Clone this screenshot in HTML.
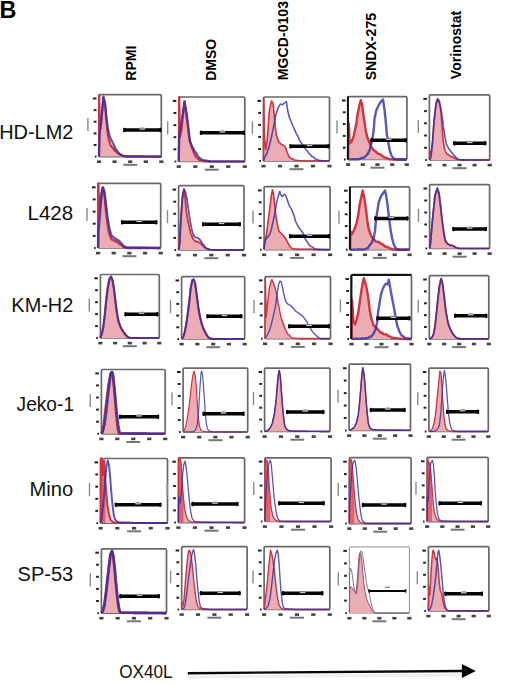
<!DOCTYPE html>
<html><head><meta charset="utf-8"><style>
html,body{margin:0;padding:0;background:#fff;}
body{width:520px;height:685px;overflow:hidden;font-family:"Liberation Sans",sans-serif;}
svg{display:block;}
</style></head><body>
<svg width="520" height="685" viewBox="0 0 520 685">
<g><rect x="99.0" y="94.7" width="62.3" height="61.9" rx="1.2" fill="#fff" stroke="#686868" stroke-width="1.7"/><path d="M99.0,156.6 99.2,95.4 99.8,130.4 101.1,123.7 102.3,110.5 103.5,97.4 105.1,104.8 107.1,127.7 108.5,138.5 110.5,145.2 112.2,147.3 113.8,149.2 115.2,151.0 116.5,151.9 117.9,153.3 119.2,154.0 120.6,154.7 121.9,155.3 123.3,155.7 124.6,156.2 126.0,156.6 127.2,156.6 128.4,156.6 129.6,156.6 130.8,156.6 132.1,156.6 133.3,156.6 134.5,156.6 135.7,156.6 136.9,156.6 138.2,156.6 139.4,156.6 140.6,156.6 141.8,156.6 143.1,156.6 144.3,156.6 145.5,156.6 146.7,156.6 147.9,156.6 149.2,156.6 150.4,156.6 151.6,156.6 152.8,156.6 154.0,156.6 155.3,156.6 156.5,156.6 157.7,156.6 158.9,156.6 160.1,156.6 161.4,156.6 161.4,156.6 99.0,156.6Z" fill="#ebadb3" stroke="none"/><path d="M99.0,156.6 99.2,95.4 99.8,130.4 101.1,123.7 102.3,110.5 103.5,97.4 105.1,104.8 107.1,127.7 108.5,138.5 110.5,145.2 112.2,147.3 113.8,149.2 115.2,151.0 116.5,151.9 117.9,153.3 119.2,154.0 120.6,154.7 121.9,155.3 123.3,155.7 124.6,156.2 126.0,156.6 127.2,156.6 128.4,156.6 129.6,156.6 130.8,156.6 132.1,156.6 133.3,156.6 134.5,156.6 135.7,156.6 136.9,156.6 138.2,156.6 139.4,156.6 140.6,156.6 141.8,156.6 143.1,156.6 144.3,156.6 145.5,156.6 146.7,156.6 147.9,156.6 149.2,156.6 150.4,156.6 151.6,156.6 152.8,156.6 154.0,156.6 155.3,156.6 156.5,156.6 157.7,156.6 158.9,156.6 160.1,156.6 161.4,156.6" fill="none" stroke="#d3323e" stroke-width="2.2" stroke-linejoin="round"/><path d="M99.0,156.6 99.7,134.4 101.0,121.5 102.2,109.3 103.5,96.7 105.1,103.5 106.4,116.9 107.8,127.7 109.1,134.4 111.2,139.8 113.2,143.8 115.2,147.9 116.5,150.0 117.9,151.9 119.2,153.6 120.6,154.6 121.9,155.2 123.3,155.7 124.6,156.2 125.8,156.2 127.1,156.3 128.3,156.3 129.5,156.3 130.7,156.3 132.0,156.3 133.2,156.3 134.4,156.3 135.6,156.4 136.9,156.4 138.1,156.4 139.3,156.4 140.5,156.4 141.8,156.4 143.0,156.4 144.2,156.4 145.4,156.5 146.7,156.5 147.9,156.5 149.1,156.5 150.3,156.5 151.6,156.5 152.8,156.5 154.0,156.6 155.2,156.6 156.5,156.6 157.7,156.6 158.9,156.6 160.1,156.6 161.4,156.6" fill="none" stroke="#2e30a8" stroke-opacity="0.8" stroke-width="2.2" stroke-linejoin="round"/><rect x="123.3" y="128.2" width="38.1" height="3.5" rx="0.6" fill="#050505"/><rect x="123.3" y="127.7" width="2.2" height="4.5" rx="1" fill="#050505"/><rect x="159.2" y="127.7" width="2.2" height="4.5" rx="1" fill="#050505"/><rect x="139.6" y="128.2" width="5.5" height="1.5" fill="#fff" fill-opacity="0.8"/><rect x="140.1" y="127.6" width="4.5" height="1.0" fill="#777"/><rect x="94.9" y="155.6" width="1.6" height="2" fill="#222"/><rect x="93.7" y="144.0" width="2.8" height="2" fill="#222"/><rect x="93.7" y="132.4" width="2.8" height="2" fill="#222"/><rect x="93.7" y="120.7" width="2.8" height="2" fill="#222"/><rect x="93.7" y="109.1" width="2.8" height="2" fill="#222"/><rect x="92.9" y="97.5" width="3.6" height="2" fill="#222"/><rect x="87.2" y="118.0" width="1.4" height="13" fill="#8a8a8a"/><rect x="96.9" y="160.4" width="4.2" height="2.6" fill="#444"/><rect x="112.5" y="160.4" width="4.2" height="2.6" fill="#444"/><rect x="128.1" y="160.4" width="4.2" height="2.6" fill="#444"/><rect x="143.7" y="160.4" width="4.2" height="2.6" fill="#444"/><rect x="159.3" y="160.4" width="4.2" height="2.6" fill="#444"/><rect x="123.2" y="163.8" width="14" height="2" fill="#777"/></g>
<g><rect x="178.8" y="97.0" width="66.0" height="64.5" rx="1.2" fill="#fff" stroke="#686868" stroke-width="1.7"/><path d="M178.8,161.5 179.2,97.2 179.9,137.2 181.5,129.5 183.0,115.2 184.5,101.8 186.8,118.7 189.2,137.2 191.5,146.4 193.8,152.5 196.1,157.2 197.6,158.3 199.2,159.9 200.7,160.3 202.2,160.7 203.8,161.2 205.3,161.3 206.8,161.4 208.4,161.5 209.6,161.5 210.8,161.5 212.0,161.5 213.2,161.5 214.5,161.5 215.7,161.5 216.9,161.5 218.1,161.5 219.3,161.5 220.5,161.5 221.8,161.5 223.0,161.5 224.2,161.5 225.4,161.5 226.6,161.5 227.8,161.5 229.0,161.5 230.3,161.5 231.5,161.5 232.7,161.5 233.9,161.5 235.1,161.5 236.3,161.5 237.6,161.5 238.8,161.5 240.0,161.5 241.2,161.5 242.4,161.5 243.6,161.5 244.8,161.5 244.8,161.5 178.8,161.5Z" fill="#ebadb3" stroke="none"/><path d="M178.8,161.5 179.2,97.2 179.9,137.2 181.5,129.5 183.0,115.2 184.5,101.8 186.8,118.7 189.2,137.2 191.5,146.4 193.8,152.5 196.1,157.2 197.6,158.3 199.2,159.9 200.7,160.3 202.2,160.7 203.8,161.2 205.3,161.3 206.8,161.4 208.4,161.5 209.6,161.5 210.8,161.5 212.0,161.5 213.2,161.5 214.5,161.5 215.7,161.5 216.9,161.5 218.1,161.5 219.3,161.5 220.5,161.5 221.8,161.5 223.0,161.5 224.2,161.5 225.4,161.5 226.6,161.5 227.8,161.5 229.0,161.5 230.3,161.5 231.5,161.5 232.7,161.5 233.9,161.5 235.1,161.5 236.3,161.5 237.6,161.5 238.8,161.5 240.0,161.5 241.2,161.5 242.4,161.5 243.6,161.5 244.8,161.5" fill="none" stroke="#d3323e" stroke-width="2.2" stroke-linejoin="round"/><path d="M178.8,161.5 179.2,137.2 180.5,127.7 181.8,119.4 183.2,110.2 184.5,101.0 186.8,114.1 188.4,127.9 189.9,141.8 192.2,146.4 194.5,151.0 196.1,152.8 197.6,155.6 199.2,157.6 200.7,158.7 202.2,159.8 203.8,160.1 205.3,160.5 206.5,160.7 207.8,160.9 209.0,161.1 210.2,161.3 211.5,161.5 212.7,161.5 213.9,161.5 215.2,161.5 216.4,161.5 217.6,161.5 218.9,161.5 220.1,161.5 221.4,161.5 222.6,161.5 223.8,161.5 225.1,161.5 226.3,161.5 227.5,161.5 228.8,161.5 230.0,161.5 231.2,161.5 232.5,161.5 233.7,161.5 235.0,161.5 236.2,161.5 237.4,161.5 238.7,161.5 239.9,161.5 241.1,161.5 242.4,161.5 243.6,161.5 244.8,161.5" fill="none" stroke="#2e30a8" stroke-opacity="0.8" stroke-width="2.2" stroke-linejoin="round"/><rect x="199.9" y="131.1" width="44.9" height="3.5" rx="0.6" fill="#050505"/><rect x="199.9" y="130.6" width="2.2" height="4.5" rx="1" fill="#050505"/><rect x="242.6" y="130.6" width="2.2" height="4.5" rx="1" fill="#050505"/><rect x="219.6" y="131.1" width="5.5" height="1.5" fill="#fff" fill-opacity="0.8"/><rect x="220.1" y="130.5" width="4.5" height="1.0" fill="#777"/><rect x="174.7" y="160.5" width="1.6" height="2" fill="#222"/><rect x="173.5" y="148.3" width="2.8" height="2" fill="#222"/><rect x="173.5" y="136.2" width="2.8" height="2" fill="#222"/><rect x="173.5" y="124.1" width="2.8" height="2" fill="#222"/><rect x="173.5" y="112.0" width="2.8" height="2" fill="#222"/><rect x="172.7" y="99.9" width="3.6" height="2" fill="#222"/><rect x="167.0" y="121.6" width="1.4" height="13" fill="#8a8a8a"/><rect x="176.7" y="165.3" width="4.2" height="2.6" fill="#444"/><rect x="193.2" y="165.3" width="4.2" height="2.6" fill="#444"/><rect x="209.7" y="165.3" width="4.2" height="2.6" fill="#444"/><rect x="226.2" y="165.3" width="4.2" height="2.6" fill="#444"/><rect x="242.7" y="165.3" width="4.2" height="2.6" fill="#444"/><rect x="204.8" y="168.7" width="14" height="2" fill="#777"/></g>
<g><rect x="263.5" y="97.0" width="66.0" height="64.0" rx="1.2" fill="#fff" stroke="#686868" stroke-width="1.7"/><path d="M263.5,161.0 263.8,98.7 264.5,137.2 265.7,149.5 267.2,140.2 269.5,109.5 271.5,101.0 273.1,103.3 274.2,114.1 275.2,126.4 276.5,135.6 278.8,141.8 281.1,144.1 282.6,145.0 284.2,145.6 285.7,147.9 287.2,152.5 288.8,156.4 291.1,158.7 292.4,158.6 293.6,159.7 294.9,160.2 296.2,160.3 297.6,160.5 298.9,160.6 300.2,160.7 301.5,160.8 302.8,160.9 304.2,161.0 305.4,161.0 306.6,161.0 307.8,161.0 309.0,161.0 310.2,161.0 311.4,161.0 312.6,161.0 313.8,161.0 315.0,161.0 316.2,161.0 317.5,161.0 318.7,161.0 319.9,161.0 321.1,161.0 322.3,161.0 323.5,161.0 324.7,161.0 325.9,161.0 327.1,161.0 328.3,161.0 329.5,161.0 329.5,161.0 263.5,161.0Z" fill="#ebadb3" stroke="none"/><path d="M263.5,161.0 263.8,98.7 264.5,137.2 265.7,149.5 267.2,140.2 269.5,109.5 271.5,101.0 273.1,103.3 274.2,114.1 275.2,126.4 276.5,135.6 278.8,141.8 281.1,144.1 282.6,145.0 284.2,145.6 285.7,147.9 287.2,152.5 288.8,156.4 291.1,158.7 292.4,158.6 293.6,159.7 294.9,160.2 296.2,160.3 297.6,160.5 298.9,160.6 300.2,160.7 301.5,160.8 302.8,160.9 304.2,161.0 305.4,161.0 306.6,161.0 307.8,161.0 309.0,161.0 310.2,161.0 311.4,161.0 312.6,161.0 313.8,161.0 315.0,161.0 316.2,161.0 317.5,161.0 318.7,161.0 319.9,161.0 321.1,161.0 322.3,161.0 323.5,161.0 324.7,161.0 325.9,161.0 327.1,161.0 328.3,161.0 329.5,161.0" fill="none" stroke="#d3323e" stroke-width="1.6" stroke-linejoin="round"/><path d="M263.5,161.0 264.2,158.7 266.5,154.1 268.8,147.9 271.1,138.7 273.4,127.9 275.7,115.6 278.0,107.9 280.3,104.1 282.6,104.8 284.9,102.5 286.5,101.8 287.2,107.9 288.8,115.6 290.3,119.5 291.8,123.3 294.2,128.7 296.5,134.1 298.0,136.3 299.5,140.2 301.1,142.6 302.6,144.8 304.2,146.4 305.7,149.5 307.2,150.9 308.8,153.3 310.3,154.4 311.8,156.4 313.4,156.7 314.9,158.7 316.5,159.2 318.0,159.9 319.5,160.3 321.1,160.6 322.6,161.0 324.0,161.0 325.4,161.0 326.8,161.0 328.2,161.0 329.5,161.0" fill="none" stroke="#2e30a8" stroke-opacity="0.8" stroke-width="1.6" stroke-linejoin="round"/><rect x="289.5" y="144.6" width="40.0" height="3.5" rx="0.6" fill="#050505"/><rect x="289.5" y="144.1" width="2.2" height="4.5" rx="1" fill="#050505"/><rect x="327.3" y="144.1" width="2.2" height="4.5" rx="1" fill="#050505"/><rect x="306.8" y="144.6" width="5.5" height="1.5" fill="#fff" fill-opacity="0.8"/><rect x="307.3" y="144.0" width="4.5" height="1.0" fill="#777"/><rect x="259.4" y="160.0" width="1.6" height="2" fill="#222"/><rect x="258.2" y="148.0" width="2.8" height="2" fill="#222"/><rect x="258.2" y="135.9" width="2.8" height="2" fill="#222"/><rect x="258.2" y="123.9" width="2.8" height="2" fill="#222"/><rect x="258.2" y="111.9" width="2.8" height="2" fill="#222"/><rect x="257.4" y="99.9" width="3.6" height="2" fill="#222"/><rect x="251.7" y="121.3" width="1.4" height="13" fill="#8a8a8a"/><rect x="261.4" y="164.8" width="4.2" height="2.6" fill="#444"/><rect x="277.9" y="164.8" width="4.2" height="2.6" fill="#444"/><rect x="294.4" y="164.8" width="4.2" height="2.6" fill="#444"/><rect x="310.9" y="164.8" width="4.2" height="2.6" fill="#444"/><rect x="327.4" y="164.8" width="4.2" height="2.6" fill="#444"/><rect x="289.5" y="168.2" width="14" height="2" fill="#777"/></g>
<g><rect x="348.1" y="96.7" width="58.8" height="62.8" rx="1.2" fill="#fff" stroke="#686868" stroke-width="1.7"/><path d="M348.1,159.5 348.4,121.8 349.2,129.5 349.5,143.3 351.5,141.8 353.8,135.6 356.1,124.8 357.6,114.1 359.2,106.4 360.7,100.2 362.2,104.8 363.0,112.5 364.5,121.8 365.8,131.0 367.3,137.2 369.2,141.8 371.5,147.2 373.8,150.2 375.3,151.3 376.8,152.5 378.4,153.9 379.9,154.1 381.5,155.3 383.0,156.4 384.5,157.4 386.1,157.9 387.6,158.5 389.2,159.2 390.7,159.3 392.2,159.4 393.8,159.5 395.1,159.5 396.4,159.5 397.7,159.5 399.0,159.5 400.3,159.5 401.6,159.5 402.9,159.5 404.2,159.5 405.5,159.5 406.8,159.5 406.8,159.5 348.1,159.5Z" fill="#ebadb3" stroke="none"/><path d="M348.1,159.5 348.4,121.8 349.2,129.5 349.5,143.3 351.5,141.8 353.8,135.6 356.1,124.8 357.6,114.1 359.2,106.4 360.7,100.2 362.2,104.8 363.0,112.5 364.5,121.8 365.8,131.0 367.3,137.2 369.2,141.8 371.5,147.2 373.8,150.2 375.3,151.3 376.8,152.5 378.4,153.9 379.9,154.1 381.5,155.3 383.0,156.4 384.5,157.4 386.1,157.9 387.6,158.5 389.2,159.2 390.7,159.3 392.2,159.4 393.8,159.5 395.1,159.5 396.4,159.5 397.7,159.5 399.0,159.5 400.3,159.5 401.6,159.5 402.9,159.5 404.2,159.5 405.5,159.5 406.8,159.5" fill="none" stroke="#d3323e" stroke-width="2.4" stroke-linejoin="round"/><path d="M348.1,159.5 349.4,159.4 350.7,159.4 351.9,159.3 353.2,159.3 354.5,159.3 355.8,159.2 357.1,159.2 358.4,159.2 359.6,158.8 360.8,158.4 362.1,158.0 363.3,157.8 364.5,157.2 366.1,155.5 367.6,154.1 369.9,149.5 372.2,140.2 373.8,129.5 374.5,118.7 376.1,111.0 378.4,105.6 380.7,101.8 383.0,99.5 383.8,104.8 384.5,109.5 385.8,121.8 386.8,134.1 388.4,143.3 389.9,151.0 391.5,155.6 393.8,158.7 395.3,159.1 396.8,159.5 398.1,159.5 399.3,159.5 400.6,159.5 401.8,159.5 403.1,159.5 404.3,159.5 405.6,159.5 406.8,159.5" fill="none" stroke="#2e30a8" stroke-opacity="0.8" stroke-width="2.4" stroke-linejoin="round"/><rect x="346.9" y="96.4" width="2" height="63.1" fill="#111"/><rect x="370.4" y="138.5" width="36.5" height="3.5" rx="0.6" fill="#050505"/><rect x="370.4" y="138.0" width="2.2" height="4.5" rx="1" fill="#050505"/><rect x="404.6" y="138.0" width="2.2" height="4.5" rx="1" fill="#050505"/><rect x="385.9" y="138.5" width="5.5" height="1.5" fill="#fff" fill-opacity="0.8"/><rect x="386.4" y="137.9" width="4.5" height="1.0" fill="#777"/><rect x="344.0" y="158.5" width="1.6" height="2" fill="#222"/><rect x="342.8" y="146.7" width="2.8" height="2" fill="#222"/><rect x="342.8" y="134.9" width="2.8" height="2" fill="#222"/><rect x="342.8" y="123.1" width="2.8" height="2" fill="#222"/><rect x="342.8" y="111.3" width="2.8" height="2" fill="#222"/><rect x="342.0" y="99.5" width="3.6" height="2" fill="#222"/><rect x="336.3" y="120.4" width="1.4" height="13" fill="#8a8a8a"/><rect x="346.0" y="163.3" width="4.2" height="2.6" fill="#444"/><rect x="360.7" y="163.3" width="4.2" height="2.6" fill="#444"/><rect x="375.4" y="163.3" width="4.2" height="2.6" fill="#444"/><rect x="390.1" y="163.3" width="4.2" height="2.6" fill="#444"/><rect x="404.7" y="163.3" width="4.2" height="2.6" fill="#444"/><rect x="370.5" y="166.7" width="14" height="2" fill="#777"/></g>
<g><rect x="429.4" y="94.9" width="60.3" height="65.1" rx="1.2" fill="#fff" stroke="#686868" stroke-width="1.7"/><path d="M429.4,160.0 429.8,151.5 430.9,154.6 432.5,140.8 434.0,120.8 436.0,103.8 437.5,98.5 439.4,100.8 440.9,111.5 442.2,128.5 443.2,140.8 444.8,150.0 446.8,153.8 448.1,154.4 449.4,155.4 450.9,156.7 452.5,156.9 454.8,158.5 456.3,159.1 457.8,159.7 459.4,159.8 460.9,160.0 462.2,160.0 463.4,160.0 464.7,160.0 465.9,160.0 467.2,160.0 468.4,160.0 469.7,160.0 470.9,160.0 472.2,160.0 473.4,160.0 474.7,160.0 475.9,160.0 477.2,160.0 478.4,160.0 479.7,160.0 480.9,160.0 482.2,160.0 483.4,160.0 484.7,160.0 485.9,160.0 487.2,160.0 488.4,160.0 489.7,160.0 489.7,160.0 429.4,160.0Z" fill="#ebadb3" stroke="none"/><path d="M429.4,160.0 429.8,151.5 430.9,154.6 432.5,140.8 434.0,120.8 436.0,103.8 437.5,98.5 439.4,100.8 440.9,111.5 442.2,128.5 443.2,140.8 444.8,150.0 446.8,153.8 448.1,154.4 449.4,155.4 450.9,156.7 452.5,156.9 454.8,158.5 456.3,159.1 457.8,159.7 459.4,159.8 460.9,160.0 462.2,160.0 463.4,160.0 464.7,160.0 465.9,160.0 467.2,160.0 468.4,160.0 469.7,160.0 470.9,160.0 472.2,160.0 473.4,160.0 474.7,160.0 475.9,160.0 477.2,160.0 478.4,160.0 479.7,160.0 480.9,160.0 482.2,160.0 483.4,160.0 484.7,160.0 485.9,160.0 487.2,160.0 488.4,160.0 489.7,160.0" fill="none" stroke="#d3323e" stroke-width="1.6" stroke-linejoin="round"/><path d="M429.4,160.0 430.9,157.7 432.5,143.8 434.0,122.3 436.0,103.8 437.8,99.2 440.2,105.4 441.7,113.1 443.2,125.4 444.8,136.2 446.3,143.8 448.6,148.5 450.9,151.5 453.2,154.6 455.5,156.9 457.1,158.6 458.6,159.2 459.9,159.5 461.2,159.7 462.5,160.0 463.7,160.0 464.9,160.0 466.2,160.0 467.4,160.0 468.7,160.0 469.9,160.0 471.1,160.0 472.4,160.0 473.6,160.0 474.8,160.0 476.1,160.0 477.3,160.0 478.6,160.0 479.8,160.0 481.0,160.0 482.3,160.0 483.5,160.0 484.7,160.0 486.0,160.0 487.2,160.0 488.5,160.0 489.7,160.0" fill="none" stroke="#2e30a8" stroke-opacity="0.8" stroke-width="1.6" stroke-linejoin="round"/><rect x="453.2" y="141.6" width="33.1" height="3.5" rx="0.6" fill="#050505"/><rect x="453.2" y="141.1" width="2.2" height="4.5" rx="1" fill="#050505"/><rect x="484.1" y="141.1" width="2.2" height="4.5" rx="1" fill="#050505"/><rect x="467.0" y="141.6" width="5.5" height="1.5" fill="#fff" fill-opacity="0.8"/><rect x="467.5" y="141.0" width="4.5" height="1.0" fill="#777"/><rect x="425.3" y="159.0" width="1.6" height="2" fill="#222"/><rect x="424.1" y="146.8" width="2.8" height="2" fill="#222"/><rect x="424.1" y="134.5" width="2.8" height="2" fill="#222"/><rect x="424.1" y="122.3" width="2.8" height="2" fill="#222"/><rect x="424.1" y="110.1" width="2.8" height="2" fill="#222"/><rect x="423.3" y="97.9" width="3.6" height="2" fill="#222"/><rect x="417.6" y="119.8" width="1.4" height="13" fill="#8a8a8a"/><rect x="427.3" y="163.8" width="4.2" height="2.6" fill="#444"/><rect x="442.4" y="163.8" width="4.2" height="2.6" fill="#444"/><rect x="457.4" y="163.8" width="4.2" height="2.6" fill="#444"/><rect x="472.5" y="163.8" width="4.2" height="2.6" fill="#444"/><rect x="487.6" y="163.8" width="4.2" height="2.6" fill="#444"/><rect x="452.5" y="167.2" width="14" height="2" fill="#777"/></g>
<g><rect x="98.1" y="183.4" width="62.6" height="64.6" rx="1.2" fill="#fff" stroke="#686868" stroke-width="1.7"/><path d="M98.1,248.0 98.2,183.4 99.2,208.8 100.7,201.1 102.5,188.0 104.5,194.9 106.1,211.8 107.6,224.2 109.2,233.4 111.2,238.8 112.5,239.9 113.8,240.3 115.3,241.3 116.8,241.8 118.4,242.8 119.9,244.2 121.5,245.0 123.0,246.5 124.5,247.2 126.1,248.0 127.3,248.0 128.5,248.0 129.8,248.0 131.0,248.0 132.3,248.0 133.5,248.0 134.7,248.0 136.0,248.0 137.2,248.0 138.4,248.0 139.7,248.0 140.9,248.0 142.1,248.0 143.4,248.0 144.6,248.0 145.9,248.0 147.1,248.0 148.3,248.0 149.6,248.0 150.8,248.0 152.0,248.0 153.3,248.0 154.5,248.0 155.7,248.0 157.0,248.0 158.2,248.0 159.5,248.0 160.7,248.0 160.7,248.0 98.1,248.0Z" fill="#ebadb3" stroke="none"/><path d="M98.1,248.0 98.2,183.4 99.2,208.8 100.7,201.1 102.5,188.0 104.5,194.9 106.1,211.8 107.6,224.2 109.2,233.4 111.2,238.8 112.5,239.9 113.8,240.3 115.3,241.3 116.8,241.8 118.4,242.8 119.9,244.2 121.5,245.0 123.0,246.5 124.5,247.2 126.1,248.0 127.3,248.0 128.5,248.0 129.8,248.0 131.0,248.0 132.3,248.0 133.5,248.0 134.7,248.0 136.0,248.0 137.2,248.0 138.4,248.0 139.7,248.0 140.9,248.0 142.1,248.0 143.4,248.0 144.6,248.0 145.9,248.0 147.1,248.0 148.3,248.0 149.6,248.0 150.8,248.0 152.0,248.0 153.3,248.0 154.5,248.0 155.7,248.0 157.0,248.0 158.2,248.0 159.5,248.0 160.7,248.0" fill="none" stroke="#d3323e" stroke-width="2.4" stroke-linejoin="round"/><path d="M98.1,248.0 98.4,231.8 99.9,216.5 101.5,193.4 103.0,187.2 104.5,191.8 106.1,205.7 107.6,218.0 109.2,227.2 110.7,233.4 112.2,236.5 114.5,238.0 116.8,239.5 119.2,241.1 121.5,243.4 123.8,246.5 125.3,247.0 126.8,247.5 128.1,247.6 129.3,247.6 130.5,247.6 131.7,247.6 132.9,247.6 134.1,247.6 135.3,247.7 136.5,247.7 137.7,247.7 138.9,247.7 140.1,247.7 141.4,247.7 142.6,247.8 143.8,247.8 145.0,247.8 146.2,247.8 147.4,247.8 148.6,247.8 149.8,247.9 151.0,247.9 152.2,247.9 153.4,247.9 154.6,247.9 155.9,247.9 157.1,248.0 158.3,248.0 159.5,248.0 160.7,248.0" fill="none" stroke="#2e30a8" stroke-opacity="0.8" stroke-width="2.4" stroke-linejoin="round"/><rect x="121.0" y="220.6" width="36.3" height="3.5" rx="0.6" fill="#050505"/><rect x="121.0" y="220.1" width="2.2" height="4.5" rx="1" fill="#050505"/><rect x="155.1" y="220.1" width="2.2" height="4.5" rx="1" fill="#050505"/><rect x="136.4" y="220.6" width="5.5" height="1.5" fill="#fff" fill-opacity="0.8"/><rect x="136.9" y="220.0" width="4.5" height="1.0" fill="#777"/><rect x="94.0" y="247.0" width="1.6" height="2" fill="#222"/><rect x="92.8" y="234.9" width="2.8" height="2" fill="#222"/><rect x="92.8" y="222.7" width="2.8" height="2" fill="#222"/><rect x="92.8" y="210.6" width="2.8" height="2" fill="#222"/><rect x="92.8" y="198.4" width="2.8" height="2" fill="#222"/><rect x="92.0" y="186.3" width="3.6" height="2" fill="#222"/><rect x="86.3" y="208.0" width="1.4" height="13" fill="#8a8a8a"/><rect x="96.0" y="251.8" width="4.2" height="2.6" fill="#444"/><rect x="111.6" y="251.8" width="4.2" height="2.6" fill="#444"/><rect x="127.3" y="251.8" width="4.2" height="2.6" fill="#444"/><rect x="142.9" y="251.8" width="4.2" height="2.6" fill="#444"/><rect x="158.6" y="251.8" width="4.2" height="2.6" fill="#444"/><rect x="122.4" y="255.2" width="14" height="2" fill="#777"/></g>
<g><rect x="178.6" y="185.7" width="65.4" height="64.3" rx="1.2" fill="#fff" stroke="#686868" stroke-width="1.7"/><path d="M178.6,250.0 179.4,241.5 180.9,218.5 182.5,195.4 184.0,189.2 185.1,196.9 186.3,210.8 187.8,220.0 189.4,227.7 190.9,233.8 193.2,239.2 195.5,241.5 197.8,241.5 200.2,243.1 202.5,245.4 204.8,247.7 206.3,248.3 207.8,249.2 209.4,249.6 210.9,250.0 212.1,250.0 213.4,250.0 214.6,250.0 215.8,250.0 217.0,250.0 218.3,250.0 219.5,250.0 220.7,250.0 221.9,250.0 223.2,250.0 224.4,250.0 225.6,250.0 226.8,250.0 228.1,250.0 229.3,250.0 230.5,250.0 231.7,250.0 233.0,250.0 234.2,250.0 235.4,250.0 236.6,250.0 237.9,250.0 239.1,250.0 240.3,250.0 241.5,250.0 242.8,250.0 244.0,250.0 244.0,250.0 178.6,250.0Z" fill="#ebadb3" stroke="none"/><path d="M178.6,250.0 179.4,241.5 180.9,218.5 182.5,195.4 184.0,189.2 185.1,196.9 186.3,210.8 187.8,220.0 189.4,227.7 190.9,233.8 193.2,239.2 195.5,241.5 197.8,241.5 200.2,243.1 202.5,245.4 204.8,247.7 206.3,248.3 207.8,249.2 209.4,249.6 210.9,250.0 212.1,250.0 213.4,250.0 214.6,250.0 215.8,250.0 217.0,250.0 218.3,250.0 219.5,250.0 220.7,250.0 221.9,250.0 223.2,250.0 224.4,250.0 225.6,250.0 226.8,250.0 228.1,250.0 229.3,250.0 230.5,250.0 231.7,250.0 233.0,250.0 234.2,250.0 235.4,250.0 236.6,250.0 237.9,250.0 239.1,250.0 240.3,250.0 241.5,250.0 242.8,250.0 244.0,250.0" fill="none" stroke="#d3323e" stroke-width="1.8" stroke-linejoin="round"/><path d="M178.6,250.0 179.8,244.6 180.9,218.5 182.5,198.5 184.0,189.2 185.5,192.3 187.1,200.0 188.6,210.8 190.2,221.5 191.7,229.2 193.2,234.6 195.5,237.7 197.8,237.7 200.2,240.0 202.5,243.8 204.0,245.3 205.5,247.7 206.8,248.6 208.1,248.9 209.4,249.5 210.9,249.7 212.5,249.8 214.0,250.0 215.2,250.0 216.4,250.0 217.6,250.0 218.8,250.0 220.0,250.0 221.2,250.0 222.4,250.0 223.6,250.0 224.8,250.0 226.0,250.0 227.2,250.0 228.4,250.0 229.6,250.0 230.8,250.0 232.0,250.0 233.2,250.0 234.4,250.0 235.6,250.0 236.8,250.0 238.0,250.0 239.2,250.0 240.4,250.0 241.6,250.0 242.8,250.0 244.0,250.0" fill="none" stroke="#2e30a8" stroke-opacity="0.8" stroke-width="1.8" stroke-linejoin="round"/><rect x="202.2" y="222.6" width="38.8" height="3.5" rx="0.6" fill="#050505"/><rect x="202.2" y="222.1" width="2.2" height="4.5" rx="1" fill="#050505"/><rect x="238.7" y="222.1" width="2.2" height="4.5" rx="1" fill="#050505"/><rect x="218.8" y="222.6" width="5.5" height="1.5" fill="#fff" fill-opacity="0.8"/><rect x="219.3" y="222.0" width="4.5" height="1.0" fill="#777"/><rect x="174.5" y="249.0" width="1.6" height="2" fill="#222"/><rect x="173.3" y="236.9" width="2.8" height="2" fill="#222"/><rect x="173.3" y="224.8" width="2.8" height="2" fill="#222"/><rect x="173.3" y="212.8" width="2.8" height="2" fill="#222"/><rect x="173.3" y="200.7" width="2.8" height="2" fill="#222"/><rect x="172.5" y="188.6" width="3.6" height="2" fill="#222"/><rect x="166.8" y="210.2" width="1.4" height="13" fill="#8a8a8a"/><rect x="176.5" y="253.8" width="4.2" height="2.6" fill="#444"/><rect x="192.9" y="253.8" width="4.2" height="2.6" fill="#444"/><rect x="209.2" y="253.8" width="4.2" height="2.6" fill="#444"/><rect x="225.6" y="253.8" width="4.2" height="2.6" fill="#444"/><rect x="241.9" y="253.8" width="4.2" height="2.6" fill="#444"/><rect x="204.3" y="257.2" width="14" height="2" fill="#777"/></g>
<g><rect x="264.1" y="186.6" width="66.0" height="63.1" rx="1.2" fill="#fff" stroke="#686868" stroke-width="1.7"/><path d="M264.1,249.7 264.8,243.5 266.7,232.8 268.2,220.5 269.8,208.2 271.3,195.8 272.5,189.7 273.6,194.3 274.7,205.1 275.9,215.8 277.5,225.1 279.0,231.2 281.3,233.5 283.6,235.8 285.9,238.9 288.2,243.5 290.5,247.4 292.8,248.9 294.1,249.0 295.3,249.0 296.5,249.1 297.8,249.2 299.0,249.2 300.2,249.2 301.5,249.2 302.7,249.2 303.9,249.2 305.2,249.2 306.4,249.2 307.6,249.2 308.8,249.2 310.1,249.2 311.3,249.2 312.8,249.5 314.4,249.7 315.6,249.7 316.8,249.7 318.0,249.7 319.2,249.7 320.4,249.7 321.6,249.7 322.8,249.7 324.0,249.7 325.2,249.7 326.5,249.7 327.7,249.7 328.9,249.7 330.1,249.7 330.1,249.7 264.1,249.7Z" fill="#ebadb3" stroke="none"/><path d="M264.1,249.7 264.8,243.5 266.7,232.8 268.2,220.5 269.8,208.2 271.3,195.8 272.5,189.7 273.6,194.3 274.7,205.1 275.9,215.8 277.5,225.1 279.0,231.2 281.3,233.5 283.6,235.8 285.9,238.9 288.2,243.5 290.5,247.4 292.8,248.9 294.1,249.0 295.3,249.0 296.5,249.1 297.8,249.2 299.0,249.2 300.2,249.2 301.5,249.2 302.7,249.2 303.9,249.2 305.2,249.2 306.4,249.2 307.6,249.2 308.8,249.2 310.1,249.2 311.3,249.2 312.8,249.5 314.4,249.7 315.6,249.7 316.8,249.7 318.0,249.7 319.2,249.7 320.4,249.7 321.6,249.7 322.8,249.7 324.0,249.7 325.2,249.7 326.5,249.7 327.7,249.7 328.9,249.7 330.1,249.7" fill="none" stroke="#d3323e" stroke-width="1.6" stroke-linejoin="round"/><path d="M264.1,249.7 264.4,243.5 265.9,238.9 267.5,237.4 269.8,234.3 271.3,229.7 273.6,218.9 275.2,211.2 276.7,202.0 278.2,196.6 279.8,191.2 280.5,194.3 282.1,196.6 284.4,194.3 285.9,195.8 287.5,200.5 289.0,205.1 291.3,208.9 293.6,214.3 295.9,222.0 298.2,226.6 300.5,229.7 302.8,232.8 305.2,238.9 306.7,241.1 308.2,243.5 309.8,245.7 311.3,246.6 312.8,247.3 314.4,248.5 315.9,248.9 317.5,249.4 318.7,249.4 320.0,249.4 321.2,249.5 322.5,249.5 323.8,249.5 325.0,249.6 326.3,249.6 327.6,249.6 328.8,249.7 330.1,249.7" fill="none" stroke="#2e30a8" stroke-opacity="0.8" stroke-width="1.6" stroke-linejoin="round"/><rect x="289.0" y="234.4" width="41.1" height="3.5" rx="0.6" fill="#050505"/><rect x="289.0" y="233.9" width="2.2" height="4.5" rx="1" fill="#050505"/><rect x="327.9" y="233.9" width="2.2" height="4.5" rx="1" fill="#050505"/><rect x="306.8" y="234.4" width="5.5" height="1.5" fill="#fff" fill-opacity="0.8"/><rect x="307.3" y="233.8" width="4.5" height="1.0" fill="#777"/><rect x="260.0" y="248.7" width="1.6" height="2" fill="#222"/><rect x="258.8" y="236.8" width="2.8" height="2" fill="#222"/><rect x="258.8" y="225.0" width="2.8" height="2" fill="#222"/><rect x="258.8" y="213.1" width="2.8" height="2" fill="#222"/><rect x="258.8" y="201.3" width="2.8" height="2" fill="#222"/><rect x="258.0" y="189.4" width="3.6" height="2" fill="#222"/><rect x="252.3" y="210.5" width="1.4" height="13" fill="#8a8a8a"/><rect x="262.0" y="253.5" width="4.2" height="2.6" fill="#444"/><rect x="278.5" y="253.5" width="4.2" height="2.6" fill="#444"/><rect x="295.0" y="253.5" width="4.2" height="2.6" fill="#444"/><rect x="311.5" y="253.5" width="4.2" height="2.6" fill="#444"/><rect x="328.0" y="253.5" width="4.2" height="2.6" fill="#444"/><rect x="290.1" y="256.9" width="14" height="2" fill="#777"/></g>
<g><rect x="350.1" y="186.9" width="59.5" height="62.8" rx="1.2" fill="#fff" stroke="#686868" stroke-width="1.7"/><path d="M350.1,249.7 350.4,231.2 351.9,234.3 354.2,229.7 356.5,223.5 358.1,215.8 359.6,205.1 361.2,197.4 362.7,190.5 364.2,197.4 365.8,208.2 367.3,220.5 368.8,229.7 371.2,235.8 372.7,238.5 374.2,239.7 375.8,241.4 377.3,242.0 378.8,241.9 380.4,243.5 381.9,243.8 383.5,245.1 385.0,246.5 386.5,246.6 388.1,247.3 389.6,248.2 391.2,248.8 392.7,249.4 394.2,249.5 395.8,249.7 397.0,249.7 398.3,249.7 399.5,249.7 400.8,249.7 402.1,249.7 403.3,249.7 404.6,249.7 405.8,249.7 407.1,249.7 408.4,249.7 409.6,249.7 409.6,249.7 350.1,249.7Z" fill="#ebadb3" stroke="none"/><path d="M350.1,249.7 350.4,231.2 351.9,234.3 354.2,229.7 356.5,223.5 358.1,215.8 359.6,205.1 361.2,197.4 362.7,190.5 364.2,197.4 365.8,208.2 367.3,220.5 368.8,229.7 371.2,235.8 372.7,238.5 374.2,239.7 375.8,241.4 377.3,242.0 378.8,241.9 380.4,243.5 381.9,243.8 383.5,245.1 385.0,246.5 386.5,246.6 388.1,247.3 389.6,248.2 391.2,248.8 392.7,249.4 394.2,249.5 395.8,249.7 397.0,249.7 398.3,249.7 399.5,249.7 400.8,249.7 402.1,249.7 403.3,249.7 404.6,249.7 405.8,249.7 407.1,249.7 408.4,249.7 409.6,249.7" fill="none" stroke="#d3323e" stroke-width="2.4" stroke-linejoin="round"/><path d="M350.1,249.7 351.3,249.7 352.6,249.6 353.8,249.6 355.1,249.6 356.3,249.6 357.5,249.5 358.8,249.5 360.0,249.5 361.3,249.5 362.5,249.4 363.8,249.4 365.0,249.4 366.3,248.5 367.6,248.4 368.8,246.6 371.2,243.5 373.5,238.9 375.0,231.2 375.8,222.0 377.3,211.2 378.8,202.0 381.2,195.8 383.5,192.8 385.0,190.5 386.2,195.8 387.3,203.5 388.8,215.8 390.4,228.2 391.9,237.4 393.5,243.5 395.0,247.4 397.3,249.4 398.8,249.5 400.4,249.7 401.7,249.7 403.0,249.7 404.3,249.7 405.7,249.7 407.0,249.7 408.3,249.7 409.6,249.7" fill="none" stroke="#2e30a8" stroke-opacity="0.8" stroke-width="2.4" stroke-linejoin="round"/><rect x="348.9" y="186.6" width="2" height="63.1" fill="#111"/><rect x="374.2" y="216.7" width="34.2" height="3.5" rx="0.6" fill="#050505"/><rect x="374.2" y="216.2" width="2.2" height="4.5" rx="1" fill="#050505"/><rect x="406.2" y="216.2" width="2.2" height="4.5" rx="1" fill="#050505"/><rect x="388.6" y="216.7" width="5.5" height="1.5" fill="#fff" fill-opacity="0.8"/><rect x="389.1" y="216.1" width="4.5" height="1.0" fill="#777"/><rect x="346.0" y="248.7" width="1.6" height="2" fill="#222"/><rect x="344.8" y="236.9" width="2.8" height="2" fill="#222"/><rect x="344.8" y="225.1" width="2.8" height="2" fill="#222"/><rect x="344.8" y="213.3" width="2.8" height="2" fill="#222"/><rect x="344.8" y="201.5" width="2.8" height="2" fill="#222"/><rect x="344.0" y="189.7" width="3.6" height="2" fill="#222"/><rect x="338.3" y="210.7" width="1.4" height="13" fill="#8a8a8a"/><rect x="348.0" y="253.5" width="4.2" height="2.6" fill="#444"/><rect x="362.9" y="253.5" width="4.2" height="2.6" fill="#444"/><rect x="377.7" y="253.5" width="4.2" height="2.6" fill="#444"/><rect x="392.6" y="253.5" width="4.2" height="2.6" fill="#444"/><rect x="407.5" y="253.5" width="4.2" height="2.6" fill="#444"/><rect x="372.8" y="256.9" width="14" height="2" fill="#777"/></g>
<g><rect x="429.6" y="184.6" width="60.0" height="63.9" rx="1.2" fill="#fff" stroke="#686868" stroke-width="1.7"/><path d="M429.6,248.5 430.4,244.6 431.9,226.2 433.5,210.8 435.0,195.4 437.0,189.2 438.8,193.8 440.4,206.2 441.9,220.0 443.5,230.8 445.0,240.0 447.3,243.8 448.8,244.5 450.4,245.4 451.9,245.3 453.5,246.2 455.8,247.7 457.3,248.1 458.8,248.5 460.1,248.5 461.3,248.5 462.5,248.5 463.8,248.5 465.0,248.5 466.2,248.5 467.5,248.5 468.7,248.5 469.9,248.5 471.2,248.5 472.4,248.5 473.6,248.5 474.8,248.5 476.1,248.5 477.3,248.5 478.5,248.5 479.8,248.5 481.0,248.5 482.2,248.5 483.5,248.5 484.7,248.5 485.9,248.5 487.2,248.5 488.4,248.5 489.6,248.5 489.6,248.5 429.6,248.5Z" fill="#ebadb3" stroke="none"/><path d="M429.6,248.5 430.4,244.6 431.9,226.2 433.5,210.8 435.0,195.4 437.0,189.2 438.8,193.8 440.4,206.2 441.9,220.0 443.5,230.8 445.0,240.0 447.3,243.8 448.8,244.5 450.4,245.4 451.9,245.3 453.5,246.2 455.8,247.7 457.3,248.1 458.8,248.5 460.1,248.5 461.3,248.5 462.5,248.5 463.8,248.5 465.0,248.5 466.2,248.5 467.5,248.5 468.7,248.5 469.9,248.5 471.2,248.5 472.4,248.5 473.6,248.5 474.8,248.5 476.1,248.5 477.3,248.5 478.5,248.5 479.8,248.5 481.0,248.5 482.2,248.5 483.5,248.5 484.7,248.5 485.9,248.5 487.2,248.5 488.4,248.5 489.6,248.5" fill="none" stroke="#d3323e" stroke-width="1.7" stroke-linejoin="round"/><path d="M429.6,248.5 430.4,243.1 431.9,226.2 433.5,209.2 435.0,195.4 437.3,187.7 439.2,193.1 440.7,206.2 442.2,220.0 443.8,232.3 445.3,240.8 446.7,242.7 448.1,244.3 449.6,245.1 451.2,245.4 452.7,245.5 454.2,246.2 456.5,247.7 458.1,248.1 459.6,248.5 460.8,248.5 462.0,248.5 463.2,248.5 464.4,248.5 465.6,248.5 466.8,248.5 468.0,248.5 469.2,248.5 470.4,248.5 471.6,248.5 472.8,248.5 474.0,248.5 475.2,248.5 476.4,248.5 477.6,248.5 478.8,248.5 480.0,248.5 481.2,248.5 482.4,248.5 483.6,248.5 484.8,248.5 486.0,248.5 487.2,248.5 488.4,248.5 489.6,248.5" fill="none" stroke="#2e30a8" stroke-opacity="0.8" stroke-width="1.7" stroke-linejoin="round"/><rect x="452.4" y="227.2" width="34.5" height="3.5" rx="0.6" fill="#050505"/><rect x="452.4" y="226.7" width="2.2" height="4.5" rx="1" fill="#050505"/><rect x="484.6" y="226.7" width="2.2" height="4.5" rx="1" fill="#050505"/><rect x="466.9" y="227.2" width="5.5" height="1.5" fill="#fff" fill-opacity="0.8"/><rect x="467.4" y="226.6" width="4.5" height="1.0" fill="#777"/><rect x="425.5" y="247.5" width="1.6" height="2" fill="#222"/><rect x="424.3" y="235.5" width="2.8" height="2" fill="#222"/><rect x="424.3" y="223.5" width="2.8" height="2" fill="#222"/><rect x="424.3" y="211.5" width="2.8" height="2" fill="#222"/><rect x="424.3" y="199.5" width="2.8" height="2" fill="#222"/><rect x="423.5" y="187.5" width="3.6" height="2" fill="#222"/><rect x="417.8" y="208.9" width="1.4" height="13" fill="#8a8a8a"/><rect x="427.5" y="252.3" width="4.2" height="2.6" fill="#444"/><rect x="442.5" y="252.3" width="4.2" height="2.6" fill="#444"/><rect x="457.5" y="252.3" width="4.2" height="2.6" fill="#444"/><rect x="472.5" y="252.3" width="4.2" height="2.6" fill="#444"/><rect x="487.5" y="252.3" width="4.2" height="2.6" fill="#444"/><rect x="452.6" y="255.7" width="14" height="2" fill="#777"/></g>
<g><rect x="100.4" y="274.5" width="58.9" height="63.5" rx="1.2" fill="#fff" stroke="#686868" stroke-width="1.7"/><path d="M100.1,338.0 101.6,334.2 103.2,326.5 104.7,314.2 106.2,298.8 107.8,286.5 109.3,278.8 110.8,276.5 112.4,280.3 113.9,289.5 115.5,303.4 117.0,314.2 118.5,321.8 120.8,328.0 123.2,331.8 125.5,334.9 127.8,337.2 130.1,338.0 131.3,338.0 132.5,338.0 133.7,338.0 134.9,338.0 136.1,338.0 137.3,338.0 138.5,338.0 139.7,338.0 140.9,338.0 142.1,338.0 143.3,338.0 144.5,338.0 145.7,338.0 146.9,338.0 148.2,338.0 149.4,338.0 150.6,338.0 151.8,338.0 153.0,338.0 154.2,338.0 155.4,338.0 156.6,338.0 157.8,338.0 159.0,338.0 159.3,338.0 100.4,338.0Z" fill="#ebadb3" stroke="none"/><path d="M100.1,338.0 101.6,334.2 103.2,326.5 104.7,314.2 106.2,298.8 107.8,286.5 109.3,278.8 110.8,276.5 112.4,280.3 113.9,289.5 115.5,303.4 117.0,314.2 118.5,321.8 120.8,328.0 123.2,331.8 125.5,334.9 127.8,337.2 130.1,338.0 131.3,338.0 132.5,338.0 133.7,338.0 134.9,338.0 136.1,338.0 137.3,338.0 138.5,338.0 139.7,338.0 140.9,338.0 142.1,338.0 143.3,338.0 144.5,338.0 145.7,338.0 146.9,338.0 148.2,338.0 149.4,338.0 150.6,338.0 151.8,338.0 153.0,338.0 154.2,338.0 155.4,338.0 156.6,338.0 157.8,338.0 159.0,338.0" fill="none" stroke="#d3323e" stroke-width="2.0" stroke-linejoin="round"/><path d="M100.4,338.0 101.9,334.2 103.5,326.5 105.0,314.2 106.5,298.8 108.1,286.5 109.6,278.8 111.2,276.5 112.7,280.3 114.2,289.5 115.8,303.4 117.3,314.2 118.8,321.8 121.2,328.0 123.5,331.8 125.8,334.9 128.1,337.2 130.4,338.0 131.6,338.0 132.8,338.0 134.0,338.0 135.2,338.0 136.4,338.0 137.6,338.0 138.8,338.0 140.0,338.0 141.2,338.0 142.4,338.0 143.6,338.0 144.8,338.0 146.1,338.0 147.3,338.0 148.5,338.0 149.7,338.0 150.9,338.0 152.1,338.0 153.3,338.0 154.5,338.0 155.7,338.0 156.9,338.0 158.1,338.0 159.3,338.0" fill="none" stroke="#2e30a8" stroke-opacity="0.8" stroke-width="2.0" stroke-linejoin="round"/><rect x="124.5" y="312.4" width="33.8" height="3.5" rx="0.6" fill="#050505"/><rect x="124.5" y="311.9" width="2.2" height="4.5" rx="1" fill="#050505"/><rect x="156.2" y="311.9" width="2.2" height="4.5" rx="1" fill="#050505"/><rect x="138.7" y="312.4" width="5.5" height="1.5" fill="#fff" fill-opacity="0.8"/><rect x="139.2" y="311.8" width="4.5" height="1.0" fill="#777"/><rect x="96.3" y="337.0" width="1.6" height="2" fill="#222"/><rect x="95.1" y="325.1" width="2.8" height="2" fill="#222"/><rect x="95.1" y="313.1" width="2.8" height="2" fill="#222"/><rect x="95.1" y="301.2" width="2.8" height="2" fill="#222"/><rect x="95.1" y="289.2" width="2.8" height="2" fill="#222"/><rect x="94.3" y="277.3" width="3.6" height="2" fill="#222"/><rect x="88.6" y="298.6" width="1.4" height="13" fill="#8a8a8a"/><rect x="98.3" y="341.8" width="4.2" height="2.6" fill="#444"/><rect x="113.0" y="341.8" width="4.2" height="2.6" fill="#444"/><rect x="127.7" y="341.8" width="4.2" height="2.6" fill="#444"/><rect x="142.5" y="341.8" width="4.2" height="2.6" fill="#444"/><rect x="157.2" y="341.8" width="4.2" height="2.6" fill="#444"/><rect x="122.8" y="345.2" width="14" height="2" fill="#777"/></g>
<g><rect x="181.6" y="276.7" width="63.1" height="62.3" rx="1.2" fill="#fff" stroke="#686868" stroke-width="1.7"/><path d="M181.5,339.0 183.0,337.2 184.5,332.5 186.1,324.8 187.6,314.1 189.2,301.8 190.7,287.9 192.2,280.2 193.8,279.5 195.0,283.3 196.5,294.1 198.1,306.4 199.6,315.6 201.5,323.3 203.8,329.5 206.1,334.1 208.4,337.5 210.7,338.7 212.2,338.8 213.8,339.0 215.0,339.0 216.2,339.0 217.5,339.0 218.7,339.0 219.9,339.0 221.2,339.0 222.4,339.0 223.6,339.0 224.8,339.0 226.1,339.0 227.3,339.0 228.5,339.0 229.8,339.0 231.0,339.0 232.2,339.0 233.5,339.0 234.7,339.0 235.9,339.0 237.2,339.0 238.4,339.0 239.6,339.0 240.8,339.0 242.1,339.0 243.3,339.0 244.5,339.0 244.7,339.0 181.6,339.0Z" fill="#ebadb3" stroke="none"/><path d="M181.5,339.0 183.0,337.2 184.5,332.5 186.1,324.8 187.6,314.1 189.2,301.8 190.7,287.9 192.2,280.2 193.8,279.5 195.0,283.3 196.5,294.1 198.1,306.4 199.6,315.6 201.5,323.3 203.8,329.5 206.1,334.1 208.4,337.5 210.7,338.7 212.2,338.8 213.8,339.0 215.0,339.0 216.2,339.0 217.5,339.0 218.7,339.0 219.9,339.0 221.2,339.0 222.4,339.0 223.6,339.0 224.8,339.0 226.1,339.0 227.3,339.0 228.5,339.0 229.8,339.0 231.0,339.0 232.2,339.0 233.5,339.0 234.7,339.0 235.9,339.0 237.2,339.0 238.4,339.0 239.6,339.0 240.8,339.0 242.1,339.0 243.3,339.0 244.5,339.0" fill="none" stroke="#d3323e" stroke-width="2.0" stroke-linejoin="round"/><path d="M181.6,339.0 183.2,337.2 184.7,332.5 186.2,324.8 187.8,314.1 189.3,301.8 190.8,287.9 192.4,280.2 193.9,279.5 195.2,283.3 196.7,294.1 198.2,306.4 199.8,315.6 201.6,323.3 203.9,329.5 206.2,334.1 208.5,337.5 210.8,338.7 212.4,338.8 213.9,339.0 215.2,339.0 216.4,339.0 217.6,339.0 218.8,339.0 220.1,339.0 221.3,339.0 222.5,339.0 223.8,339.0 225.0,339.0 226.2,339.0 227.5,339.0 228.7,339.0 229.9,339.0 231.2,339.0 232.4,339.0 233.6,339.0 234.8,339.0 236.1,339.0 237.3,339.0 238.5,339.0 239.8,339.0 241.0,339.0 242.2,339.0 243.5,339.0 244.7,339.0" fill="none" stroke="#2e30a8" stroke-opacity="0.8" stroke-width="2.0" stroke-linejoin="round"/><rect x="206.5" y="314.6" width="35.8" height="3.5" rx="0.6" fill="#050505"/><rect x="206.5" y="314.1" width="2.2" height="4.5" rx="1" fill="#050505"/><rect x="240.2" y="314.1" width="2.2" height="4.5" rx="1" fill="#050505"/><rect x="221.7" y="314.6" width="5.5" height="1.5" fill="#fff" fill-opacity="0.8"/><rect x="222.2" y="314.0" width="4.5" height="1.0" fill="#777"/><rect x="177.5" y="338.0" width="1.6" height="2" fill="#222"/><rect x="176.3" y="326.3" width="2.8" height="2" fill="#222"/><rect x="176.3" y="314.6" width="2.8" height="2" fill="#222"/><rect x="176.3" y="302.9" width="2.8" height="2" fill="#222"/><rect x="176.3" y="291.2" width="2.8" height="2" fill="#222"/><rect x="175.5" y="279.5" width="3.6" height="2" fill="#222"/><rect x="169.8" y="300.2" width="1.4" height="13" fill="#8a8a8a"/><rect x="179.5" y="342.8" width="4.2" height="2.6" fill="#444"/><rect x="195.3" y="342.8" width="4.2" height="2.6" fill="#444"/><rect x="211.1" y="342.8" width="4.2" height="2.6" fill="#444"/><rect x="226.8" y="342.8" width="4.2" height="2.6" fill="#444"/><rect x="242.6" y="342.8" width="4.2" height="2.6" fill="#444"/><rect x="206.2" y="346.2" width="14" height="2" fill="#777"/></g>
<g><rect x="265.1" y="276.7" width="65.4" height="62.0" rx="1.2" fill="#fff" stroke="#686868" stroke-width="1.7"/><path d="M265.1,338.7 265.4,277.9 266.2,317.2 267.7,301.8 269.2,289.5 270.8,281.8 272.0,279.5 273.5,283.3 275.1,287.9 276.9,295.6 278.5,304.8 280.0,312.5 281.5,318.7 283.1,323.3 285.4,329.5 287.7,334.1 289.2,334.9 290.8,337.2 292.3,337.8 293.8,338.4 295.1,338.4 296.3,338.5 297.5,338.6 298.8,338.6 300.0,338.7 301.2,338.7 302.4,338.7 303.7,338.7 304.9,338.7 306.1,338.7 307.3,338.7 308.5,338.7 309.7,338.7 311.0,338.7 312.2,338.7 313.4,338.7 314.6,338.7 315.8,338.7 317.1,338.7 318.3,338.7 319.5,338.7 320.7,338.7 321.9,338.7 323.2,338.7 324.4,338.7 325.6,338.7 326.8,338.7 328.0,338.7 329.2,338.7 330.5,338.7 330.5,338.7 265.1,338.7Z" fill="#ebadb3" stroke="none"/><path d="M265.1,338.7 265.4,277.9 266.2,317.2 267.7,301.8 269.2,289.5 270.8,281.8 272.0,279.5 273.5,283.3 275.1,287.9 276.9,295.6 278.5,304.8 280.0,312.5 281.5,318.7 283.1,323.3 285.4,329.5 287.7,334.1 289.2,334.9 290.8,337.2 292.3,337.8 293.8,338.4 295.1,338.4 296.3,338.5 297.5,338.6 298.8,338.6 300.0,338.7 301.2,338.7 302.4,338.7 303.7,338.7 304.9,338.7 306.1,338.7 307.3,338.7 308.5,338.7 309.7,338.7 311.0,338.7 312.2,338.7 313.4,338.7 314.6,338.7 315.8,338.7 317.1,338.7 318.3,338.7 319.5,338.7 320.7,338.7 321.9,338.7 323.2,338.7 324.4,338.7 325.6,338.7 326.8,338.7 328.0,338.7 329.2,338.7 330.5,338.7" fill="none" stroke="#d3323e" stroke-width="1.4" stroke-linejoin="round"/><path d="M265.1,338.7 266.9,335.6 268.5,332.5 270.8,326.4 273.1,317.2 275.4,306.4 276.9,295.6 278.5,284.8 280.0,281.0 281.2,281.8 282.3,286.4 283.8,294.1 285.4,300.2 286.9,303.3 289.2,304.8 290.8,305.6 293.1,307.9 295.4,311.0 297.7,312.5 300.0,314.1 302.3,315.6 304.6,318.7 306.9,321.8 309.2,326.4 311.5,330.2 313.8,333.3 316.2,335.6 318.5,337.5 320.8,338.7 322.0,338.7 323.2,338.7 324.4,338.7 325.6,338.7 326.8,338.7 328.0,338.7 329.2,338.7 330.5,338.7" fill="none" stroke="#2e30a8" stroke-opacity="0.8" stroke-width="1.4" stroke-linejoin="round"/><rect x="288.2" y="324.6" width="41.8" height="3.5" rx="0.6" fill="#050505"/><rect x="288.2" y="324.1" width="2.2" height="4.5" rx="1" fill="#050505"/><rect x="327.8" y="324.1" width="2.2" height="4.5" rx="1" fill="#050505"/><rect x="306.3" y="324.6" width="5.5" height="1.5" fill="#fff" fill-opacity="0.8"/><rect x="306.8" y="324.0" width="4.5" height="1.0" fill="#777"/><rect x="261.0" y="337.7" width="1.6" height="2" fill="#222"/><rect x="259.8" y="326.0" width="2.8" height="2" fill="#222"/><rect x="259.8" y="314.4" width="2.8" height="2" fill="#222"/><rect x="259.8" y="302.7" width="2.8" height="2" fill="#222"/><rect x="259.8" y="291.1" width="2.8" height="2" fill="#222"/><rect x="259.0" y="279.4" width="3.6" height="2" fill="#222"/><rect x="253.3" y="300.0" width="1.4" height="13" fill="#8a8a8a"/><rect x="263.0" y="342.5" width="4.2" height="2.6" fill="#444"/><rect x="279.3" y="342.5" width="4.2" height="2.6" fill="#444"/><rect x="295.7" y="342.5" width="4.2" height="2.6" fill="#444"/><rect x="312.0" y="342.5" width="4.2" height="2.6" fill="#444"/><rect x="328.4" y="342.5" width="4.2" height="2.6" fill="#444"/><rect x="290.8" y="345.9" width="14" height="2" fill="#777"/></g>
<g><rect x="351.5" y="275.1" width="60.0" height="63.9" rx="1.2" fill="#fff" stroke="#686868" stroke-width="1.7"/><rect x="351.5" y="273.8" width="60.0" height="2.2" fill="#111"/><path d="M351.5,339.0 351.9,299.8 352.7,309.0 353.5,321.3 355.0,324.4 356.5,319.8 358.1,313.6 359.6,302.8 361.2,292.1 362.7,282.8 363.8,278.2 365.3,282.8 366.5,287.5 368.1,296.7 369.6,309.0 371.2,318.2 373.5,325.2 375.8,327.5 377.3,328.7 378.8,330.5 380.4,332.5 381.9,332.8 383.5,334.1 385.0,334.4 386.5,334.5 388.1,335.9 389.6,336.3 391.2,337.5 392.7,337.7 394.2,338.0 395.8,338.2 397.1,338.4 398.3,338.5 399.6,338.6 400.9,338.7 402.2,338.9 403.5,339.0 404.8,339.0 406.1,339.0 407.5,339.0 408.8,339.0 410.1,339.0 411.5,339.0 411.5,339.0 351.5,339.0Z" fill="#ebadb3" stroke="none"/><path d="M351.5,339.0 351.9,299.8 352.7,309.0 353.5,321.3 355.0,324.4 356.5,319.8 358.1,313.6 359.6,302.8 361.2,292.1 362.7,282.8 363.8,278.2 365.3,282.8 366.5,287.5 368.1,296.7 369.6,309.0 371.2,318.2 373.5,325.2 375.8,327.5 377.3,328.7 378.8,330.5 380.4,332.5 381.9,332.8 383.5,334.1 385.0,334.4 386.5,334.5 388.1,335.9 389.6,336.3 391.2,337.5 392.7,337.7 394.2,338.0 395.8,338.2 397.1,338.4 398.3,338.5 399.6,338.6 400.9,338.7 402.2,338.9 403.5,339.0 404.8,339.0 406.1,339.0 407.5,339.0 408.8,339.0 410.1,339.0 411.5,339.0" fill="none" stroke="#d3323e" stroke-width="2.4" stroke-linejoin="round"/><path d="M351.5,339.0 352.7,338.9 354.0,338.9 355.3,338.8 356.6,338.8 357.9,338.7 359.1,338.6 360.4,338.6 361.7,338.5 363.0,338.5 364.2,338.4 365.5,338.3 366.8,338.3 368.1,338.2 369.6,336.8 371.2,336.7 373.5,333.6 375.8,329.0 377.3,321.3 378.1,312.1 379.6,302.8 381.2,293.6 382.7,289.0 384.2,285.9 385.8,283.6 387.8,284.4 388.8,279.8 389.9,285.9 391.2,293.6 392.7,301.3 394.2,309.0 395.8,318.2 397.3,325.9 399.6,332.1 401.9,335.9 403.5,336.3 405.0,338.2 406.3,338.4 407.6,338.5 408.9,338.7 410.2,338.8 411.5,339.0" fill="none" stroke="#2e30a8" stroke-opacity="0.8" stroke-width="2.4" stroke-linejoin="round"/><rect x="350.3" y="274.8" width="2" height="64.2" fill="#111"/><rect x="376.5" y="316.5" width="33.8" height="3.5" rx="0.6" fill="#050505"/><rect x="376.5" y="316.0" width="2.2" height="4.5" rx="1" fill="#050505"/><rect x="408.2" y="316.0" width="2.2" height="4.5" rx="1" fill="#050505"/><rect x="390.7" y="316.5" width="5.5" height="1.5" fill="#fff" fill-opacity="0.8"/><rect x="391.2" y="315.9" width="4.5" height="1.0" fill="#777"/><rect x="347.4" y="338.0" width="1.6" height="2" fill="#222"/><rect x="346.2" y="326.0" width="2.8" height="2" fill="#222"/><rect x="346.2" y="314.0" width="2.8" height="2" fill="#222"/><rect x="346.2" y="302.0" width="2.8" height="2" fill="#222"/><rect x="346.2" y="290.0" width="2.8" height="2" fill="#222"/><rect x="345.4" y="278.0" width="3.6" height="2" fill="#222"/><rect x="339.7" y="299.4" width="1.4" height="13" fill="#8a8a8a"/><rect x="349.4" y="342.8" width="4.2" height="2.6" fill="#444"/><rect x="364.4" y="342.8" width="4.2" height="2.6" fill="#444"/><rect x="379.4" y="342.8" width="4.2" height="2.6" fill="#444"/><rect x="394.4" y="342.8" width="4.2" height="2.6" fill="#444"/><rect x="409.4" y="342.8" width="4.2" height="2.6" fill="#444"/><rect x="374.5" y="346.2" width="14" height="2" fill="#777"/></g>
<g><rect x="429.3" y="275.7" width="59.5" height="63.2" rx="1.2" fill="#fff" stroke="#686868" stroke-width="1.7"/><path d="M429.2,338.9 430.5,338.3 431.8,337.7 433.3,334.6 434.8,326.9 436.4,313.1 437.9,297.7 439.5,285.4 441.0,278.5 442.5,283.8 444.1,296.2 445.6,310.0 447.2,319.2 448.7,325.4 451.0,330.8 453.3,334.6 455.6,337.2 457.9,338.5 459.5,338.7 461.0,338.9 462.2,338.9 463.4,338.9 464.6,338.9 465.8,338.9 467.0,338.9 468.2,338.9 469.4,338.9 470.6,338.9 471.8,338.9 473.0,338.9 474.2,338.9 475.4,338.9 476.7,338.9 477.9,338.9 479.1,338.9 480.3,338.9 481.5,338.9 482.7,338.9 483.9,338.9 485.1,338.9 486.3,338.9 487.5,338.9 488.7,338.9 488.8,338.9 429.3,338.9Z" fill="#ebadb3" stroke="none"/><path d="M429.2,338.9 430.5,338.3 431.8,337.7 433.3,334.6 434.8,326.9 436.4,313.1 437.9,297.7 439.5,285.4 441.0,278.5 442.5,283.8 444.1,296.2 445.6,310.0 447.2,319.2 448.7,325.4 451.0,330.8 453.3,334.6 455.6,337.2 457.9,338.5 459.5,338.7 461.0,338.9 462.2,338.9 463.4,338.9 464.6,338.9 465.8,338.9 467.0,338.9 468.2,338.9 469.4,338.9 470.6,338.9 471.8,338.9 473.0,338.9 474.2,338.9 475.4,338.9 476.7,338.9 477.9,338.9 479.1,338.9 480.3,338.9 481.5,338.9 482.7,338.9 483.9,338.9 485.1,338.9 486.3,338.9 487.5,338.9 488.7,338.9" fill="none" stroke="#d3323e" stroke-width="1.7" stroke-linejoin="round"/><path d="M429.3,338.9 430.6,338.3 431.9,337.7 433.5,334.6 435.0,326.9 436.5,313.1 438.1,297.7 439.6,285.4 441.2,278.5 442.7,283.8 444.2,296.2 445.8,310.0 447.3,319.2 448.8,325.4 451.2,330.8 453.5,334.6 455.8,337.2 458.1,338.5 459.6,338.7 461.2,338.9 462.4,338.9 463.6,338.9 464.8,338.9 466.0,338.9 467.2,338.9 468.4,338.9 469.6,338.9 470.8,338.9 472.0,338.9 473.2,338.9 474.4,338.9 475.6,338.9 476.8,338.9 478.0,338.9 479.2,338.9 480.4,338.9 481.6,338.9 482.8,338.9 484.0,338.9 485.2,338.9 486.4,338.9 487.6,338.9 488.8,338.9" fill="none" stroke="#2e30a8" stroke-opacity="0.8" stroke-width="1.7" stroke-linejoin="round"/><rect x="454.2" y="313.9" width="33.1" height="3.5" rx="0.6" fill="#050505"/><rect x="454.2" y="313.4" width="2.2" height="4.5" rx="1" fill="#050505"/><rect x="485.1" y="313.4" width="2.2" height="4.5" rx="1" fill="#050505"/><rect x="468.0" y="313.9" width="5.5" height="1.5" fill="#fff" fill-opacity="0.8"/><rect x="468.5" y="313.3" width="4.5" height="1.0" fill="#777"/><rect x="425.2" y="337.9" width="1.6" height="2" fill="#222"/><rect x="424.0" y="326.0" width="2.8" height="2" fill="#222"/><rect x="424.0" y="314.2" width="2.8" height="2" fill="#222"/><rect x="424.0" y="302.3" width="2.8" height="2" fill="#222"/><rect x="424.0" y="290.4" width="2.8" height="2" fill="#222"/><rect x="423.2" y="278.5" width="3.6" height="2" fill="#222"/><rect x="417.5" y="299.7" width="1.4" height="13" fill="#8a8a8a"/><rect x="427.2" y="342.7" width="4.2" height="2.6" fill="#444"/><rect x="442.1" y="342.7" width="4.2" height="2.6" fill="#444"/><rect x="457.0" y="342.7" width="4.2" height="2.6" fill="#444"/><rect x="471.9" y="342.7" width="4.2" height="2.6" fill="#444"/><rect x="486.7" y="342.7" width="4.2" height="2.6" fill="#444"/><rect x="452.1" y="346.1" width="14" height="2" fill="#777"/></g>
<g><rect x="101.4" y="369.5" width="63.8" height="64.3" rx="1.2" fill="#fff" stroke="#686868" stroke-width="1.7"/><path d="M101.4,433.8 102.5,432.2 103.7,424.5 105.2,412.2 106.8,398.4 108.6,384.5 110.6,373.8 111.7,372.2 112.9,376.8 114.2,389.2 115.4,404.5 116.6,418.4 117.8,429.2 119.1,433.5 120.3,433.5 121.5,433.5 122.7,433.5 123.9,433.5 125.1,433.5 126.4,433.5 127.6,433.5 128.8,433.5 130.0,433.5 131.2,433.5 132.4,433.6 133.7,433.6 134.9,433.6 136.1,433.6 137.3,433.6 138.5,433.6 139.7,433.6 140.9,433.6 142.2,433.6 143.4,433.6 144.6,433.6 145.8,433.6 147.0,433.6 148.2,433.7 149.4,433.7 150.7,433.7 151.9,433.7 153.1,433.7 154.3,433.7 155.5,433.7 156.7,433.7 157.9,433.7 159.2,433.7 160.4,433.7 161.6,433.7 162.8,433.8 164.0,433.8 165.2,433.8 165.2,433.8 101.4,433.8Z" fill="#ebadb3" stroke="none"/><path d="M101.4,433.8 102.5,432.2 103.7,424.5 105.2,412.2 106.8,398.4 108.6,384.5 110.6,373.8 111.7,372.2 112.9,376.8 114.2,389.2 115.4,404.5 116.6,418.4 117.8,429.2 119.1,433.5 120.3,433.5 121.5,433.5 122.7,433.5 123.9,433.5 125.1,433.5 126.4,433.5 127.6,433.5 128.8,433.5 130.0,433.5 131.2,433.5 132.4,433.6 133.7,433.6 134.9,433.6 136.1,433.6 137.3,433.6 138.5,433.6 139.7,433.6 140.9,433.6 142.2,433.6 143.4,433.6 144.6,433.6 145.8,433.6 147.0,433.6 148.2,433.7 149.4,433.7 150.7,433.7 151.9,433.7 153.1,433.7 154.3,433.7 155.5,433.7 156.7,433.7 157.9,433.7 159.2,433.7 160.4,433.7 161.6,433.7 162.8,433.8 164.0,433.8 165.2,433.8" fill="none" stroke="#d3323e" stroke-width="2.6" stroke-linejoin="round"/><path d="M101.4,433.8 102.9,430.7 104.5,424.5 106.0,413.8 107.5,399.9 109.1,386.1 110.6,373.8 112.2,371.9 113.2,375.3 114.5,387.6 115.7,401.5 116.9,413.8 118.2,424.5 119.4,431.5 120.6,433.5 121.8,433.5 123.0,433.5 124.2,433.5 125.4,433.5 126.6,433.5 127.9,433.5 129.1,433.5 130.3,433.5 131.5,433.5 132.7,433.5 133.9,433.6 135.1,433.6 136.3,433.6 137.5,433.6 138.7,433.6 139.9,433.6 141.1,433.6 142.3,433.6 143.5,433.6 144.7,433.6 145.9,433.6 147.1,433.6 148.3,433.7 149.6,433.7 150.8,433.7 152.0,433.7 153.2,433.7 154.4,433.7 155.6,433.7 156.8,433.7 158.0,433.7 159.2,433.7 160.4,433.7 161.6,433.7 162.8,433.8 164.0,433.8 165.2,433.8" fill="none" stroke="#2e30a8" stroke-opacity="0.8" stroke-width="2.6" stroke-linejoin="round"/><rect x="119.1" y="415.1" width="40.0" height="3.5" rx="0.6" fill="#050505"/><rect x="119.1" y="414.6" width="2.2" height="4.5" rx="1" fill="#050505"/><rect x="156.9" y="414.6" width="2.2" height="4.5" rx="1" fill="#050505"/><rect x="136.3" y="415.1" width="5.5" height="1.5" fill="#fff" fill-opacity="0.8"/><rect x="136.8" y="414.5" width="4.5" height="1.0" fill="#777"/><rect x="97.3" y="432.8" width="1.6" height="2" fill="#222"/><rect x="96.1" y="420.7" width="2.8" height="2" fill="#222"/><rect x="96.1" y="408.6" width="2.8" height="2" fill="#222"/><rect x="96.1" y="396.5" width="2.8" height="2" fill="#222"/><rect x="96.1" y="384.4" width="2.8" height="2" fill="#222"/><rect x="95.3" y="372.4" width="3.6" height="2" fill="#222"/><rect x="89.6" y="394.0" width="1.4" height="13" fill="#8a8a8a"/><rect x="99.3" y="437.6" width="4.2" height="2.6" fill="#444"/><rect x="115.2" y="437.6" width="4.2" height="2.6" fill="#444"/><rect x="131.2" y="437.6" width="4.2" height="2.6" fill="#444"/><rect x="147.2" y="437.6" width="4.2" height="2.6" fill="#444"/><rect x="163.1" y="437.6" width="4.2" height="2.6" fill="#444"/><rect x="126.3" y="441.0" width="14" height="2" fill="#777"/></g>
<g><rect x="183.1" y="368.1" width="64.6" height="63.9" rx="1.2" fill="#fff" stroke="#686868" stroke-width="1.7"/><path d="M183.1,432.0 184.2,430.9 185.7,426.6 187.2,418.9 188.8,408.2 190.3,395.8 191.8,382.0 193.4,372.8 194.3,371.2 195.2,375.8 196.2,385.1 197.2,402.0 198.3,417.4 199.5,426.6 201.1,430.5 202.6,431.0 204.2,431.5 205.7,431.7 207.2,431.8 208.8,432.0 210.0,432.0 211.2,432.0 212.4,432.0 213.6,432.0 214.9,432.0 216.1,432.0 217.3,432.0 218.5,432.0 219.7,432.0 220.9,432.0 222.1,432.0 223.4,432.0 224.6,432.0 225.8,432.0 227.0,432.0 228.2,432.0 229.4,432.0 230.7,432.0 231.9,432.0 233.1,432.0 234.3,432.0 235.5,432.0 236.7,432.0 238.0,432.0 239.2,432.0 240.4,432.0 241.6,432.0 242.8,432.0 244.0,432.0 245.3,432.0 246.5,432.0 247.7,432.0 247.7,432.0 183.1,432.0Z" fill="#ebadb3" stroke="none"/><path d="M183.1,432.0 184.2,430.9 185.7,426.6 187.2,418.9 188.8,408.2 190.3,395.8 191.8,382.0 193.4,372.8 194.3,371.2 195.2,375.8 196.2,385.1 197.2,402.0 198.3,417.4 199.5,426.6 201.1,430.5 202.6,431.0 204.2,431.5 205.7,431.7 207.2,431.8 208.8,432.0 210.0,432.0 211.2,432.0 212.4,432.0 213.6,432.0 214.9,432.0 216.1,432.0 217.3,432.0 218.5,432.0 219.7,432.0 220.9,432.0 222.1,432.0 223.4,432.0 224.6,432.0 225.8,432.0 227.0,432.0 228.2,432.0 229.4,432.0 230.7,432.0 231.9,432.0 233.1,432.0 234.3,432.0 235.5,432.0 236.7,432.0 238.0,432.0 239.2,432.0 240.4,432.0 241.6,432.0 242.8,432.0 244.0,432.0 245.3,432.0 246.5,432.0 247.7,432.0" fill="none" stroke="#d3323e" stroke-width="1.2" stroke-linejoin="round"/><path d="M183.1,432.0 184.4,432.0 185.7,431.9 186.9,431.9 188.2,431.8 189.5,431.8 190.8,431.8 192.1,431.7 193.4,431.7 195.7,429.7 197.2,425.1 198.3,415.8 199.2,400.5 200.2,383.5 201.1,372.8 201.8,371.2 202.6,375.8 203.5,386.6 204.5,400.5 205.4,414.3 206.3,423.5 207.5,428.9 209.5,431.2 210.8,431.5 212.1,431.7 213.4,432.0 214.6,432.0 215.8,432.0 217.1,432.0 218.3,432.0 219.5,432.0 220.7,432.0 222.0,432.0 223.2,432.0 224.4,432.0 225.6,432.0 226.9,432.0 228.1,432.0 229.3,432.0 230.5,432.0 231.8,432.0 233.0,432.0 234.2,432.0 235.4,432.0 236.7,432.0 237.9,432.0 239.1,432.0 240.3,432.0 241.6,432.0 242.8,432.0 244.0,432.0 245.2,432.0 246.5,432.0 247.7,432.0" fill="none" stroke="#2e30a8" stroke-opacity="0.8" stroke-width="1.2" stroke-linejoin="round"/><rect x="202.6" y="412.1" width="41.8" height="3.5" rx="0.6" fill="#050505"/><rect x="202.6" y="411.6" width="2.2" height="4.5" rx="1" fill="#050505"/><rect x="242.3" y="411.6" width="2.2" height="4.5" rx="1" fill="#050505"/><rect x="220.8" y="412.1" width="5.5" height="1.5" fill="#fff" fill-opacity="0.8"/><rect x="221.3" y="411.5" width="4.5" height="1.0" fill="#777"/><rect x="179.0" y="431.0" width="1.6" height="2" fill="#222"/><rect x="177.8" y="419.0" width="2.8" height="2" fill="#222"/><rect x="177.8" y="407.0" width="2.8" height="2" fill="#222"/><rect x="177.8" y="395.0" width="2.8" height="2" fill="#222"/><rect x="177.8" y="383.0" width="2.8" height="2" fill="#222"/><rect x="177.0" y="371.0" width="3.6" height="2" fill="#222"/><rect x="171.3" y="392.4" width="1.4" height="13" fill="#8a8a8a"/><rect x="181.0" y="435.8" width="4.2" height="2.6" fill="#444"/><rect x="197.1" y="435.8" width="4.2" height="2.6" fill="#444"/><rect x="213.3" y="435.8" width="4.2" height="2.6" fill="#444"/><rect x="229.4" y="435.8" width="4.2" height="2.6" fill="#444"/><rect x="245.6" y="435.8" width="4.2" height="2.6" fill="#444"/><rect x="208.4" y="439.2" width="14" height="2" fill="#777"/></g>
<g><rect x="264.6" y="368.1" width="65.4" height="63.4" rx="1.2" fill="#fff" stroke="#686868" stroke-width="1.7"/><path d="M264.6,431.5 266.2,431.0 267.7,430.5 270.0,428.2 272.3,423.5 274.6,412.8 276.2,398.9 277.2,386.6 278.2,375.8 279.2,370.5 280.3,375.8 281.2,388.2 282.3,403.5 283.4,415.8 284.6,425.1 286.2,428.9 288.5,430.5 289.7,430.7 291.0,431.0 292.3,431.2 293.5,431.2 294.7,431.3 296.0,431.3 297.2,431.3 298.4,431.3 299.6,431.3 300.8,431.3 302.0,431.3 303.3,431.3 304.5,431.3 305.7,431.3 306.9,431.3 308.1,431.4 309.3,431.4 310.5,431.4 311.8,431.4 313.0,431.4 314.2,431.4 315.4,431.4 316.6,431.4 317.8,431.4 319.1,431.4 320.3,431.5 321.5,431.5 322.7,431.5 323.9,431.5 325.1,431.5 326.4,431.5 327.6,431.5 328.8,431.5 330.0,431.5 330.0,431.5 264.6,431.5Z" fill="#ebadb3" stroke="none"/><path d="M264.6,431.5 266.2,431.0 267.7,430.5 270.0,428.2 272.3,423.5 274.6,412.8 276.2,398.9 277.2,386.6 278.2,375.8 279.2,370.5 280.3,375.8 281.2,388.2 282.3,403.5 283.4,415.8 284.6,425.1 286.2,428.9 288.5,430.5 289.7,430.7 291.0,431.0 292.3,431.2 293.5,431.2 294.7,431.3 296.0,431.3 297.2,431.3 298.4,431.3 299.6,431.3 300.8,431.3 302.0,431.3 303.3,431.3 304.5,431.3 305.7,431.3 306.9,431.3 308.1,431.4 309.3,431.4 310.5,431.4 311.8,431.4 313.0,431.4 314.2,431.4 315.4,431.4 316.6,431.4 317.8,431.4 319.1,431.4 320.3,431.5 321.5,431.5 322.7,431.5 323.9,431.5 325.1,431.5 326.4,431.5 327.6,431.5 328.8,431.5 330.0,431.5" fill="none" stroke="#d3323e" stroke-width="1.4" stroke-linejoin="round"/><path d="M264.6,431.5 266.2,431.0 267.7,430.5 270.0,428.2 272.3,423.5 274.6,412.8 276.2,398.9 277.2,386.6 278.2,375.8 279.2,370.5 280.3,375.8 281.2,388.2 282.3,403.5 283.4,415.8 284.6,425.1 286.2,428.9 288.5,430.5 289.7,430.7 291.0,431.0 292.3,431.2 293.5,431.2 294.7,431.3 296.0,431.3 297.2,431.3 298.4,431.3 299.6,431.3 300.8,431.3 302.0,431.3 303.3,431.3 304.5,431.3 305.7,431.3 306.9,431.3 308.1,431.4 309.3,431.4 310.5,431.4 311.8,431.4 313.0,431.4 314.2,431.4 315.4,431.4 316.6,431.4 317.8,431.4 319.1,431.4 320.3,431.5 321.5,431.5 322.7,431.5 323.9,431.5 325.1,431.5 326.4,431.5 327.6,431.5 328.8,431.5 330.0,431.5" fill="none" stroke="#2e30a8" stroke-opacity="0.8" stroke-width="1.4" stroke-linejoin="round"/><rect x="286.2" y="410.2" width="38.2" height="3.5" rx="0.6" fill="#050505"/><rect x="286.2" y="409.8" width="2.2" height="4.5" rx="1" fill="#050505"/><rect x="322.1" y="409.8" width="2.2" height="4.5" rx="1" fill="#050505"/><rect x="302.5" y="410.2" width="5.5" height="1.5" fill="#fff" fill-opacity="0.8"/><rect x="303.0" y="409.6" width="4.5" height="1.0" fill="#777"/><rect x="260.5" y="430.5" width="1.6" height="2" fill="#222"/><rect x="259.3" y="418.6" width="2.8" height="2" fill="#222"/><rect x="259.3" y="406.7" width="2.8" height="2" fill="#222"/><rect x="259.3" y="394.8" width="2.8" height="2" fill="#222"/><rect x="259.3" y="382.9" width="2.8" height="2" fill="#222"/><rect x="258.5" y="371.0" width="3.6" height="2" fill="#222"/><rect x="252.8" y="392.2" width="1.4" height="13" fill="#8a8a8a"/><rect x="262.5" y="435.3" width="4.2" height="2.6" fill="#444"/><rect x="278.9" y="435.3" width="4.2" height="2.6" fill="#444"/><rect x="295.2" y="435.3" width="4.2" height="2.6" fill="#444"/><rect x="311.6" y="435.3" width="4.2" height="2.6" fill="#444"/><rect x="327.9" y="435.3" width="4.2" height="2.6" fill="#444"/><rect x="290.3" y="438.7" width="14" height="2" fill="#777"/></g>
<g><rect x="349.1" y="364.1" width="61.4" height="66.3" rx="1.2" fill="#fff" stroke="#686868" stroke-width="1.7"/><path d="M349.1,430.5 350.4,429.8 351.7,429.2 354.0,427.7 356.3,423.1 358.2,415.4 359.4,404.6 360.6,390.8 361.7,376.9 362.8,367.7 364.0,373.8 365.1,386.2 366.2,401.5 367.4,415.4 368.6,424.6 370.2,428.5 371.7,429.2 373.2,430.0 374.4,430.0 375.6,430.0 376.8,430.0 378.0,430.1 379.2,430.1 380.4,430.1 381.6,430.1 382.8,430.1 384.0,430.1 385.2,430.1 386.4,430.2 387.6,430.2 388.8,430.2 390.0,430.2 391.2,430.2 392.4,430.2 393.6,430.3 394.8,430.3 396.0,430.3 397.3,430.3 398.5,430.3 399.7,430.3 400.9,430.3 402.1,430.4 403.3,430.4 404.5,430.4 405.7,430.4 406.9,430.4 408.1,430.4 409.3,430.4 410.5,430.5 410.5,430.5 349.1,430.5Z" fill="#ebadb3" stroke="none"/><path d="M349.1,430.5 350.4,429.8 351.7,429.2 354.0,427.7 356.3,423.1 358.2,415.4 359.4,404.6 360.6,390.8 361.7,376.9 362.8,367.7 364.0,373.8 365.1,386.2 366.2,401.5 367.4,415.4 368.6,424.6 370.2,428.5 371.7,429.2 373.2,430.0 374.4,430.0 375.6,430.0 376.8,430.0 378.0,430.1 379.2,430.1 380.4,430.1 381.6,430.1 382.8,430.1 384.0,430.1 385.2,430.1 386.4,430.2 387.6,430.2 388.8,430.2 390.0,430.2 391.2,430.2 392.4,430.2 393.6,430.3 394.8,430.3 396.0,430.3 397.3,430.3 398.5,430.3 399.7,430.3 400.9,430.3 402.1,430.4 403.3,430.4 404.5,430.4 405.7,430.4 406.9,430.4 408.1,430.4 409.3,430.4 410.5,430.5" fill="none" stroke="#d3323e" stroke-width="1.4" stroke-linejoin="round"/><path d="M349.1,430.5 350.4,429.8 351.7,429.2 354.0,427.7 356.3,423.1 358.2,415.4 359.4,404.6 360.6,390.8 361.7,376.9 362.8,367.7 364.0,373.8 365.1,386.2 366.2,401.5 367.4,415.4 368.6,424.6 370.2,428.5 371.7,429.2 373.2,430.0 374.4,430.0 375.6,430.0 376.8,430.0 378.0,430.1 379.2,430.1 380.4,430.1 381.6,430.1 382.8,430.1 384.0,430.1 385.2,430.1 386.4,430.2 387.6,430.2 388.8,430.2 390.0,430.2 391.2,430.2 392.4,430.2 393.6,430.3 394.8,430.3 396.0,430.3 397.3,430.3 398.5,430.3 399.7,430.3 400.9,430.3 402.1,430.4 403.3,430.4 404.5,430.4 405.7,430.4 406.9,430.4 408.1,430.4 409.3,430.4 410.5,430.5" fill="none" stroke="#2e30a8" stroke-opacity="0.8" stroke-width="1.4" stroke-linejoin="round"/><rect x="369.8" y="408.2" width="35.7" height="3.5" rx="0.6" fill="#050505"/><rect x="369.8" y="407.8" width="2.2" height="4.5" rx="1" fill="#050505"/><rect x="403.3" y="407.8" width="2.2" height="4.5" rx="1" fill="#050505"/><rect x="384.9" y="408.2" width="5.5" height="1.5" fill="#fff" fill-opacity="0.8"/><rect x="385.4" y="407.6" width="4.5" height="1.0" fill="#777"/><rect x="345.0" y="429.5" width="1.6" height="2" fill="#222"/><rect x="343.8" y="417.0" width="2.8" height="2" fill="#222"/><rect x="343.8" y="404.5" width="2.8" height="2" fill="#222"/><rect x="343.8" y="392.1" width="2.8" height="2" fill="#222"/><rect x="343.8" y="379.6" width="2.8" height="2" fill="#222"/><rect x="343.0" y="367.2" width="3.6" height="2" fill="#222"/><rect x="337.3" y="389.7" width="1.4" height="13" fill="#8a8a8a"/><rect x="347.0" y="434.3" width="4.2" height="2.6" fill="#444"/><rect x="362.3" y="434.3" width="4.2" height="2.6" fill="#444"/><rect x="377.7" y="434.3" width="4.2" height="2.6" fill="#444"/><rect x="393.0" y="434.3" width="4.2" height="2.6" fill="#444"/><rect x="408.4" y="434.3" width="4.2" height="2.6" fill="#444"/><rect x="372.8" y="437.7" width="14" height="2" fill="#777"/></g>
<g><rect x="428.9" y="368.1" width="59.4" height="63.4" rx="1.2" fill="#fff" stroke="#686868" stroke-width="1.7"/><path d="M428.9,431.5 430.9,430.5 432.5,428.2 434.0,423.5 435.5,414.3 437.1,398.9 438.6,383.5 439.8,371.2 440.9,372.8 441.8,385.1 442.8,400.5 443.7,414.3 444.8,423.5 446.3,428.9 448.6,430.9 450.2,431.1 451.7,431.3 453.2,431.5 454.4,431.5 455.6,431.5 456.9,431.5 458.1,431.5 459.3,431.5 460.5,431.5 461.7,431.5 462.9,431.5 464.1,431.5 465.3,431.5 466.5,431.5 467.7,431.5 469.0,431.5 470.2,431.5 471.4,431.5 472.6,431.5 473.8,431.5 475.0,431.5 476.2,431.5 477.4,431.5 478.6,431.5 479.8,431.5 481.1,431.5 482.3,431.5 483.5,431.5 484.7,431.5 485.9,431.5 487.1,431.5 488.3,431.5 488.3,431.5 428.9,431.5Z" fill="#ebadb3" stroke="none"/><path d="M428.9,431.5 430.9,430.5 432.5,428.2 434.0,423.5 435.5,414.3 437.1,398.9 438.6,383.5 439.8,371.2 440.9,372.8 441.8,385.1 442.8,400.5 443.7,414.3 444.8,423.5 446.3,428.9 448.6,430.9 450.2,431.1 451.7,431.3 453.2,431.5 454.4,431.5 455.6,431.5 456.9,431.5 458.1,431.5 459.3,431.5 460.5,431.5 461.7,431.5 462.9,431.5 464.1,431.5 465.3,431.5 466.5,431.5 467.7,431.5 469.0,431.5 470.2,431.5 471.4,431.5 472.6,431.5 473.8,431.5 475.0,431.5 476.2,431.5 477.4,431.5 478.6,431.5 479.8,431.5 481.1,431.5 482.3,431.5 483.5,431.5 484.7,431.5 485.9,431.5 487.1,431.5 488.3,431.5" fill="none" stroke="#d3323e" stroke-width="1.3" stroke-linejoin="round"/><path d="M428.9,431.5 430.4,431.5 431.8,431.4 433.3,431.3 434.8,431.2 437.1,429.7 439.4,425.1 440.9,412.8 442.0,395.8 443.1,380.5 444.3,370.5 445.2,374.3 446.3,385.1 447.4,400.5 448.6,414.3 449.8,423.5 451.4,428.9 452.7,430.2 454.0,430.9 455.3,431.1 456.6,431.3 457.8,431.5 459.1,431.5 460.3,431.5 461.5,431.5 462.7,431.5 463.9,431.5 465.2,431.5 466.4,431.5 467.6,431.5 468.8,431.5 470.0,431.5 471.2,431.5 472.5,431.5 473.7,431.5 474.9,431.5 476.1,431.5 477.3,431.5 478.6,431.5 479.8,431.5 481.0,431.5 482.2,431.5 483.4,431.5 484.7,431.5 485.9,431.5 487.1,431.5 488.3,431.5" fill="none" stroke="#2e30a8" stroke-opacity="0.8" stroke-width="1.3" stroke-linejoin="round"/><rect x="446.0" y="409.9" width="33.1" height="3.5" rx="0.6" fill="#050505"/><rect x="446.0" y="409.4" width="2.2" height="4.5" rx="1" fill="#050505"/><rect x="476.9" y="409.4" width="2.2" height="4.5" rx="1" fill="#050505"/><rect x="459.8" y="409.9" width="5.5" height="1.5" fill="#fff" fill-opacity="0.8"/><rect x="460.3" y="409.3" width="4.5" height="1.0" fill="#777"/><rect x="424.8" y="430.5" width="1.6" height="2" fill="#222"/><rect x="423.6" y="418.6" width="2.8" height="2" fill="#222"/><rect x="423.6" y="406.7" width="2.8" height="2" fill="#222"/><rect x="423.6" y="394.8" width="2.8" height="2" fill="#222"/><rect x="423.6" y="382.9" width="2.8" height="2" fill="#222"/><rect x="422.8" y="371.0" width="3.6" height="2" fill="#222"/><rect x="417.1" y="392.2" width="1.4" height="13" fill="#8a8a8a"/><rect x="426.8" y="435.3" width="4.2" height="2.6" fill="#444"/><rect x="441.7" y="435.3" width="4.2" height="2.6" fill="#444"/><rect x="456.5" y="435.3" width="4.2" height="2.6" fill="#444"/><rect x="471.4" y="435.3" width="4.2" height="2.6" fill="#444"/><rect x="486.2" y="435.3" width="4.2" height="2.6" fill="#444"/><rect x="451.6" y="438.7" width="14" height="2" fill="#777"/></g>
<g><rect x="100.6" y="458.5" width="66.9" height="64.6" rx="1.2" fill="#fff" stroke="#686868" stroke-width="1.7"/><path d="M100.6,523.1 100.9,458.2 101.5,467.4 102.2,459.7 102.8,475.1 103.4,470.5 104.2,460.5 104.9,472.0 105.5,482.8 106.5,495.1 107.5,505.8 109.1,515.1 110.6,519.7 112.9,522.0 114.5,522.4 116.0,522.8 117.2,522.8 118.5,522.8 119.7,522.8 120.9,522.8 122.1,522.8 123.4,522.8 124.6,522.8 125.8,522.8 127.0,522.8 128.3,522.8 129.5,522.8 130.7,522.9 132.0,522.9 133.2,522.9 134.4,522.9 135.6,522.9 136.9,522.9 138.1,522.9 139.3,522.9 140.5,522.9 141.8,522.9 143.0,522.9 144.2,522.9 145.5,522.9 146.7,523.0 147.9,523.0 149.1,523.0 150.4,523.0 151.6,523.0 152.8,523.0 154.0,523.0 155.3,523.0 156.5,523.0 157.7,523.0 158.9,523.0 160.2,523.0 161.4,523.0 162.6,523.0 163.9,523.1 165.1,523.1 166.3,523.1 167.5,523.1 167.5,523.1 100.6,523.1Z" fill="#ebadb3" stroke="none"/><path d="M100.6,523.1 100.9,458.2 101.5,467.4 102.2,459.7 102.8,475.1 103.4,470.5 104.2,460.5 104.9,472.0 105.5,482.8 105.5,523.1 100.6,523.1Z" fill="#d83040" fill-opacity="0.6" stroke="none"/><path d="M100.6,523.1 100.9,458.2 101.5,467.4 102.2,459.7 102.8,475.1 103.4,470.5 104.2,460.5 104.9,472.0 105.5,482.8 106.5,495.1 107.5,505.8 109.1,515.1 110.6,519.7 112.9,522.0 114.5,522.4 116.0,522.8 117.2,522.8 118.5,522.8 119.7,522.8 120.9,522.8 122.1,522.8 123.4,522.8 124.6,522.8 125.8,522.8 127.0,522.8 128.3,522.8 129.5,522.8 130.7,522.9 132.0,522.9 133.2,522.9 134.4,522.9 135.6,522.9 136.9,522.9 138.1,522.9 139.3,522.9 140.5,522.9 141.8,522.9 143.0,522.9 144.2,522.9 145.5,522.9 146.7,523.0 147.9,523.0 149.1,523.0 150.4,523.0 151.6,523.0 152.8,523.0 154.0,523.0 155.3,523.0 156.5,523.0 157.7,523.0 158.9,523.0 160.2,523.0 161.4,523.0 162.6,523.0 163.9,523.1 165.1,523.1 166.3,523.1 167.5,523.1" fill="none" stroke="#d3323e" stroke-width="2.0" stroke-linejoin="round"/><path d="M100.6,523.1 101.4,519.7 102.9,507.4 104.5,490.5 105.5,475.1 106.8,464.3 107.8,460.5 109.1,465.8 110.2,478.2 111.4,493.5 112.6,505.8 113.8,515.1 115.2,519.7 117.5,522.0 119.1,522.3 120.6,522.5 122.2,522.8 123.4,522.8 124.6,522.8 125.8,522.8 127.1,522.8 128.3,522.8 129.5,522.8 130.7,522.8 132.0,522.8 133.2,522.8 134.4,522.9 135.6,522.9 136.9,522.9 138.1,522.9 139.3,522.9 140.6,522.9 141.8,522.9 143.0,522.9 144.2,522.9 145.5,522.9 146.7,522.9 147.9,522.9 149.1,523.0 150.4,523.0 151.6,523.0 152.8,523.0 154.0,523.0 155.3,523.0 156.5,523.0 157.7,523.0 159.0,523.0 160.2,523.0 161.4,523.0 162.6,523.0 163.9,523.1 165.1,523.1 166.3,523.1 167.5,523.1" fill="none" stroke="#2e30a8" stroke-opacity="0.8" stroke-width="2.0" stroke-linejoin="round"/><rect x="114.8" y="502.9" width="46.6" height="3.5" rx="0.6" fill="#050505"/><rect x="114.8" y="502.4" width="2.2" height="4.5" rx="1" fill="#050505"/><rect x="159.2" y="502.4" width="2.2" height="4.5" rx="1" fill="#050505"/><rect x="135.3" y="502.9" width="5.5" height="1.5" fill="#fff" fill-opacity="0.8"/><rect x="135.8" y="502.3" width="4.5" height="1.0" fill="#777"/><rect x="96.5" y="522.1" width="1.6" height="2" fill="#222"/><rect x="95.3" y="509.9" width="2.8" height="2" fill="#222"/><rect x="95.3" y="497.8" width="2.8" height="2" fill="#222"/><rect x="95.3" y="485.7" width="2.8" height="2" fill="#222"/><rect x="95.3" y="473.5" width="2.8" height="2" fill="#222"/><rect x="94.5" y="461.4" width="3.6" height="2" fill="#222"/><rect x="88.8" y="483.1" width="1.4" height="13" fill="#8a8a8a"/><rect x="98.5" y="526.9" width="4.2" height="2.6" fill="#444"/><rect x="115.2" y="526.9" width="4.2" height="2.6" fill="#444"/><rect x="132.0" y="526.9" width="4.2" height="2.6" fill="#444"/><rect x="148.7" y="526.9" width="4.2" height="2.6" fill="#444"/><rect x="165.4" y="526.9" width="4.2" height="2.6" fill="#444"/><rect x="127.1" y="530.3" width="14" height="2" fill="#777"/></g>
<g><rect x="178.4" y="457.8" width="66.2" height="64.8" rx="1.2" fill="#fff" stroke="#686868" stroke-width="1.7"/><path d="M178.4,522.5 178.7,457.9 179.5,460.2 180.2,458.7 181.0,461.8 181.8,474.1 182.5,486.4 183.5,498.7 184.5,507.9 186.1,515.6 188.4,520.2 189.9,521.2 191.5,522.1 192.7,522.1 193.9,522.1 195.1,522.1 196.3,522.1 197.5,522.1 198.7,522.1 199.9,522.2 201.1,522.2 202.3,522.2 203.5,522.2 204.7,522.2 205.9,522.2 207.1,522.2 208.3,522.2 209.6,522.2 210.8,522.2 212.0,522.3 213.2,522.3 214.4,522.3 215.6,522.3 216.8,522.3 218.0,522.3 219.2,522.3 220.4,522.3 221.6,522.3 222.8,522.3 224.0,522.4 225.2,522.4 226.4,522.4 227.7,522.4 228.9,522.4 230.1,522.4 231.3,522.4 232.5,522.4 233.7,522.4 234.9,522.5 236.1,522.5 237.3,522.5 238.5,522.5 239.7,522.5 240.9,522.5 242.1,522.5 243.3,522.5 244.5,522.5 244.5,522.5 178.4,522.5Z" fill="#ebadb3" stroke="none"/><path d="M178.4,522.5 178.7,457.9 179.5,460.2 180.2,458.7 181.0,461.8 181.8,474.1 182.5,486.4 183.5,498.7 183.5,522.5 178.4,522.5Z" fill="#d83040" fill-opacity="0.6" stroke="none"/><path d="M178.4,522.5 178.7,457.9 179.5,460.2 180.2,458.7 181.0,461.8 181.8,474.1 182.5,486.4 183.5,498.7 184.5,507.9 186.1,515.6 188.4,520.2 189.9,521.2 191.5,522.1 192.7,522.1 193.9,522.1 195.1,522.1 196.3,522.1 197.5,522.1 198.7,522.1 199.9,522.2 201.1,522.2 202.3,522.2 203.5,522.2 204.7,522.2 205.9,522.2 207.1,522.2 208.3,522.2 209.6,522.2 210.8,522.2 212.0,522.3 213.2,522.3 214.4,522.3 215.6,522.3 216.8,522.3 218.0,522.3 219.2,522.3 220.4,522.3 221.6,522.3 222.8,522.3 224.0,522.4 225.2,522.4 226.4,522.4 227.7,522.4 228.9,522.4 230.1,522.4 231.3,522.4 232.5,522.4 233.7,522.4 234.9,522.5 236.1,522.5 237.3,522.5 238.5,522.5 239.7,522.5 240.9,522.5 242.1,522.5 243.3,522.5 244.5,522.5" fill="none" stroke="#d3323e" stroke-width="1.3" stroke-linejoin="round"/><path d="M178.4,522.5 178.7,497.2 179.5,503.3 180.4,501.8 181.5,489.5 182.5,475.6 183.8,464.8 185.0,461.0 186.1,466.4 187.2,477.2 188.4,491.0 189.6,503.3 190.8,512.5 192.2,518.7 194.5,521.5 196.1,521.7 197.6,522.0 199.2,522.2 200.4,522.2 201.6,522.2 202.8,522.3 204.1,522.3 205.3,522.3 206.5,522.3 207.7,522.3 209.0,522.3 210.2,522.3 211.4,522.3 212.6,522.3 213.9,522.3 215.1,522.3 216.3,522.3 217.6,522.4 218.8,522.4 220.0,522.4 221.2,522.4 222.5,522.4 223.7,522.4 224.9,522.4 226.1,522.4 227.4,522.4 228.6,522.4 229.8,522.4 231.0,522.4 232.3,522.5 233.5,522.5 234.7,522.5 236.0,522.5 237.2,522.5 238.4,522.5 239.6,522.5 240.9,522.5 242.1,522.5 243.3,522.5 244.5,522.5" fill="none" stroke="#2e30a8" stroke-opacity="0.8" stroke-width="1.3" stroke-linejoin="round"/><rect x="191.5" y="502.3" width="46.9" height="3.5" rx="0.6" fill="#050505"/><rect x="191.5" y="501.8" width="2.2" height="4.5" rx="1" fill="#050505"/><rect x="236.2" y="501.8" width="2.2" height="4.5" rx="1" fill="#050505"/><rect x="212.2" y="502.3" width="5.5" height="1.5" fill="#fff" fill-opacity="0.8"/><rect x="212.7" y="501.7" width="4.5" height="1.0" fill="#777"/><rect x="174.3" y="521.5" width="1.6" height="2" fill="#222"/><rect x="173.1" y="509.4" width="2.8" height="2" fill="#222"/><rect x="173.1" y="497.2" width="2.8" height="2" fill="#222"/><rect x="173.1" y="485.0" width="2.8" height="2" fill="#222"/><rect x="173.1" y="472.9" width="2.8" height="2" fill="#222"/><rect x="172.3" y="460.7" width="3.6" height="2" fill="#222"/><rect x="166.6" y="482.5" width="1.4" height="13" fill="#8a8a8a"/><rect x="176.3" y="526.3" width="4.2" height="2.6" fill="#444"/><rect x="192.8" y="526.3" width="4.2" height="2.6" fill="#444"/><rect x="209.4" y="526.3" width="4.2" height="2.6" fill="#444"/><rect x="225.9" y="526.3" width="4.2" height="2.6" fill="#444"/><rect x="242.4" y="526.3" width="4.2" height="2.6" fill="#444"/><rect x="204.5" y="529.7" width="14" height="2" fill="#777"/></g>
<g><rect x="264.9" y="457.8" width="66.2" height="63.7" rx="1.2" fill="#fff" stroke="#686868" stroke-width="1.7"/><path d="M264.9,521.5 265.2,457.9 266.2,461.8 266.9,460.2 267.7,463.3 268.5,474.1 269.2,486.4 270.2,498.7 271.4,509.5 273.1,517.2 275.4,520.2 276.9,520.8 278.5,521.5 279.7,521.5 280.9,521.5 282.1,521.5 283.4,521.5 284.6,521.5 285.8,521.5 287.0,521.5 288.3,521.5 289.5,521.5 290.7,521.5 291.9,521.5 293.1,521.5 294.4,521.5 295.6,521.5 296.8,521.5 298.0,521.5 299.3,521.5 300.5,521.5 301.7,521.5 302.9,521.5 304.2,521.5 305.4,521.5 306.6,521.5 307.8,521.5 309.1,521.5 310.3,521.5 311.5,521.5 312.7,521.5 313.9,521.5 315.2,521.5 316.4,521.5 317.6,521.5 318.8,521.5 320.1,521.5 321.3,521.5 322.5,521.5 323.7,521.5 325.0,521.5 326.2,521.5 327.4,521.5 328.6,521.5 329.9,521.5 331.1,521.5 331.1,521.5 264.9,521.5Z" fill="#ebadb3" stroke="none"/><path d="M264.9,521.5 265.2,457.9 266.2,461.8 266.9,460.2 267.7,463.3 268.5,474.1 269.2,486.4 270.2,498.7 270.2,521.5 264.9,521.5Z" fill="#d83040" fill-opacity="0.6" stroke="none"/><path d="M264.9,521.5 265.2,457.9 266.2,461.8 266.9,460.2 267.7,463.3 268.5,474.1 269.2,486.4 270.2,498.7 271.4,509.5 273.1,517.2 275.4,520.2 276.9,520.8 278.5,521.5 279.7,521.5 280.9,521.5 282.1,521.5 283.4,521.5 284.6,521.5 285.8,521.5 287.0,521.5 288.3,521.5 289.5,521.5 290.7,521.5 291.9,521.5 293.1,521.5 294.4,521.5 295.6,521.5 296.8,521.5 298.0,521.5 299.3,521.5 300.5,521.5 301.7,521.5 302.9,521.5 304.2,521.5 305.4,521.5 306.6,521.5 307.8,521.5 309.1,521.5 310.3,521.5 311.5,521.5 312.7,521.5 313.9,521.5 315.2,521.5 316.4,521.5 317.6,521.5 318.8,521.5 320.1,521.5 321.3,521.5 322.5,521.5 323.7,521.5 325.0,521.5 326.2,521.5 327.4,521.5 328.6,521.5 329.9,521.5 331.1,521.5" fill="none" stroke="#d3323e" stroke-width="1.3" stroke-linejoin="round"/><path d="M264.9,521.5 265.2,509.5 265.8,497.2 266.8,481.8 267.7,469.5 268.9,463.3 270.2,460.2 271.1,463.3 272.3,475.6 273.5,491.0 274.8,503.3 276.2,512.5 277.7,518.7 280.0,521.0 281.5,521.2 283.1,521.3 284.6,521.5 285.8,521.5 287.1,521.5 288.3,521.5 289.5,521.5 290.7,521.5 292.0,521.5 293.2,521.5 294.4,521.5 295.6,521.5 296.8,521.5 298.1,521.5 299.3,521.5 300.5,521.5 301.7,521.5 303.0,521.5 304.2,521.5 305.4,521.5 306.6,521.5 307.8,521.5 309.1,521.5 310.3,521.5 311.5,521.5 312.7,521.5 314.0,521.5 315.2,521.5 316.4,521.5 317.6,521.5 318.9,521.5 320.1,521.5 321.3,521.5 322.5,521.5 323.7,521.5 325.0,521.5 326.2,521.5 327.4,521.5 328.6,521.5 329.9,521.5 331.1,521.5" fill="none" stroke="#2e30a8" stroke-opacity="0.8" stroke-width="1.3" stroke-linejoin="round"/><rect x="278.2" y="501.6" width="46.5" height="3.5" rx="0.6" fill="#050505"/><rect x="278.2" y="501.1" width="2.2" height="4.5" rx="1" fill="#050505"/><rect x="322.4" y="501.1" width="2.2" height="4.5" rx="1" fill="#050505"/><rect x="298.6" y="501.6" width="5.5" height="1.5" fill="#fff" fill-opacity="0.8"/><rect x="299.1" y="501.0" width="4.5" height="1.0" fill="#777"/><rect x="260.8" y="520.5" width="1.6" height="2" fill="#222"/><rect x="259.6" y="508.5" width="2.8" height="2" fill="#222"/><rect x="259.6" y="496.5" width="2.8" height="2" fill="#222"/><rect x="259.6" y="484.6" width="2.8" height="2" fill="#222"/><rect x="259.6" y="472.6" width="2.8" height="2" fill="#222"/><rect x="258.8" y="460.6" width="3.6" height="2" fill="#222"/><rect x="253.1" y="482.0" width="1.4" height="13" fill="#8a8a8a"/><rect x="262.8" y="525.3" width="4.2" height="2.6" fill="#444"/><rect x="279.4" y="525.3" width="4.2" height="2.6" fill="#444"/><rect x="295.9" y="525.3" width="4.2" height="2.6" fill="#444"/><rect x="312.4" y="525.3" width="4.2" height="2.6" fill="#444"/><rect x="329.0" y="525.3" width="4.2" height="2.6" fill="#444"/><rect x="291.0" y="528.7" width="14" height="2" fill="#777"/></g>
<g><rect x="349.3" y="457.7" width="61.8" height="65.9" rx="1.2" fill="#fff" stroke="#686868" stroke-width="1.7"/><path d="M349.3,523.5 349.6,458.2 350.5,461.2 351.5,459.7 352.4,467.4 353.3,479.7 354.2,492.0 355.3,504.3 356.5,513.5 358.1,519.7 360.4,522.5 361.9,523.0 363.5,523.5 364.7,523.5 365.9,523.5 367.1,523.5 368.4,523.5 369.6,523.5 370.8,523.5 372.0,523.5 373.2,523.5 374.5,523.5 375.7,523.5 376.9,523.5 378.1,523.5 379.4,523.5 380.6,523.5 381.8,523.5 383.0,523.5 384.3,523.5 385.5,523.5 386.7,523.5 387.9,523.5 389.1,523.5 390.4,523.5 391.6,523.5 392.8,523.5 394.0,523.5 395.3,523.5 396.5,523.5 397.7,523.5 398.9,523.5 400.1,523.5 401.4,523.5 402.6,523.5 403.8,523.5 405.0,523.5 406.3,523.5 407.5,523.5 408.7,523.5 409.9,523.5 411.2,523.5 411.2,523.5 349.3,523.5Z" fill="#ebadb3" stroke="none"/><path d="M349.3,523.5 349.6,458.2 350.5,461.2 351.5,459.7 352.4,467.4 353.3,479.7 354.2,492.0 354.2,523.5 349.3,523.5Z" fill="#d83040" fill-opacity="0.6" stroke="none"/><path d="M349.3,523.5 349.6,458.2 350.5,461.2 351.5,459.7 352.4,467.4 353.3,479.7 354.2,492.0 355.3,504.3 356.5,513.5 358.1,519.7 360.4,522.5 361.9,523.0 363.5,523.5 364.7,523.5 365.9,523.5 367.1,523.5 368.4,523.5 369.6,523.5 370.8,523.5 372.0,523.5 373.2,523.5 374.5,523.5 375.7,523.5 376.9,523.5 378.1,523.5 379.4,523.5 380.6,523.5 381.8,523.5 383.0,523.5 384.3,523.5 385.5,523.5 386.7,523.5 387.9,523.5 389.1,523.5 390.4,523.5 391.6,523.5 392.8,523.5 394.0,523.5 395.3,523.5 396.5,523.5 397.7,523.5 398.9,523.5 400.1,523.5 401.4,523.5 402.6,523.5 403.8,523.5 405.0,523.5 406.3,523.5 407.5,523.5 408.7,523.5 409.9,523.5 411.2,523.5" fill="none" stroke="#d3323e" stroke-width="1.3" stroke-linejoin="round"/><path d="M349.3,523.5 349.6,505.8 350.5,490.5 351.5,475.1 352.7,464.3 353.9,461.2 355.0,460.5 356.1,467.4 357.3,479.7 358.5,493.5 359.8,505.8 361.0,515.1 362.2,520.5 364.2,522.8 365.5,523.0 366.8,523.3 368.1,523.5 369.3,523.5 370.5,523.5 371.8,523.5 373.0,523.5 374.2,523.5 375.5,523.5 376.7,523.5 377.9,523.5 379.2,523.5 380.4,523.5 381.6,523.5 382.8,523.5 384.1,523.5 385.3,523.5 386.5,523.5 387.8,523.5 389.0,523.5 390.2,523.5 391.5,523.5 392.7,523.5 393.9,523.5 395.2,523.5 396.4,523.5 397.6,523.5 398.8,523.5 400.1,523.5 401.3,523.5 402.5,523.5 403.8,523.5 405.0,523.5 406.2,523.5 407.5,523.5 408.7,523.5 409.9,523.5 411.2,523.5" fill="none" stroke="#2e30a8" stroke-opacity="0.8" stroke-width="1.3" stroke-linejoin="round"/><rect x="361.9" y="503.3" width="44.3" height="3.5" rx="0.6" fill="#050505"/><rect x="361.9" y="502.8" width="2.2" height="4.5" rx="1" fill="#050505"/><rect x="404.0" y="502.8" width="2.2" height="4.5" rx="1" fill="#050505"/><rect x="381.3" y="503.3" width="5.5" height="1.5" fill="#fff" fill-opacity="0.8"/><rect x="381.8" y="502.7" width="4.5" height="1.0" fill="#777"/><rect x="345.2" y="522.5" width="1.6" height="2" fill="#222"/><rect x="344.0" y="510.2" width="2.8" height="2" fill="#222"/><rect x="344.0" y="497.8" width="2.8" height="2" fill="#222"/><rect x="344.0" y="485.4" width="2.8" height="2" fill="#222"/><rect x="344.0" y="473.1" width="2.8" height="2" fill="#222"/><rect x="343.2" y="460.7" width="3.6" height="2" fill="#222"/><rect x="337.5" y="483.0" width="1.4" height="13" fill="#8a8a8a"/><rect x="347.2" y="527.3" width="4.2" height="2.6" fill="#444"/><rect x="362.7" y="527.3" width="4.2" height="2.6" fill="#444"/><rect x="378.1" y="527.3" width="4.2" height="2.6" fill="#444"/><rect x="393.6" y="527.3" width="4.2" height="2.6" fill="#444"/><rect x="409.1" y="527.3" width="4.2" height="2.6" fill="#444"/><rect x="373.2" y="530.7" width="14" height="2" fill="#777"/></g>
<g><rect x="427.1" y="457.4" width="61.1" height="64.2" rx="1.2" fill="#fff" stroke="#686868" stroke-width="1.7"/><path d="M427.1,521.5 427.4,457.4 428.2,461.2 428.9,464.3 429.7,462.8 430.5,467.4 431.2,476.6 432.0,487.4 432.8,498.2 433.8,508.9 435.1,515.1 436.6,518.9 438.9,520.9 440.5,521.2 442.0,521.5 443.2,521.5 444.4,521.5 445.6,521.5 446.9,521.5 448.1,521.5 449.3,521.5 450.5,521.5 451.7,521.5 452.9,521.5 454.1,521.5 455.4,521.5 456.6,521.5 457.8,521.5 459.0,521.5 460.2,521.5 461.4,521.5 462.6,521.5 463.9,521.5 465.1,521.5 466.3,521.5 467.5,521.5 468.7,521.5 469.9,521.5 471.1,521.5 472.4,521.5 473.6,521.5 474.8,521.5 476.0,521.5 477.2,521.5 478.4,521.5 479.7,521.5 480.9,521.5 482.1,521.5 483.3,521.5 484.5,521.5 485.7,521.5 486.9,521.5 488.2,521.5 488.2,521.5 427.1,521.5Z" fill="#ebadb3" stroke="none"/><path d="M427.1,521.5 427.4,457.4 428.2,461.2 428.9,464.3 429.7,462.8 430.5,467.4 431.2,476.6 432.0,487.4 432.0,521.5 427.1,521.5Z" fill="#d83040" fill-opacity="0.6" stroke="none"/><path d="M427.1,521.5 427.4,457.4 428.2,461.2 428.9,464.3 429.7,462.8 430.5,467.4 431.2,476.6 432.0,487.4 432.8,498.2 433.8,508.9 435.1,515.1 436.6,518.9 438.9,520.9 440.5,521.2 442.0,521.5 443.2,521.5 444.4,521.5 445.6,521.5 446.9,521.5 448.1,521.5 449.3,521.5 450.5,521.5 451.7,521.5 452.9,521.5 454.1,521.5 455.4,521.5 456.6,521.5 457.8,521.5 459.0,521.5 460.2,521.5 461.4,521.5 462.6,521.5 463.9,521.5 465.1,521.5 466.3,521.5 467.5,521.5 468.7,521.5 469.9,521.5 471.1,521.5 472.4,521.5 473.6,521.5 474.8,521.5 476.0,521.5 477.2,521.5 478.4,521.5 479.7,521.5 480.9,521.5 482.1,521.5 483.3,521.5 484.5,521.5 485.7,521.5 486.9,521.5 488.2,521.5" fill="none" stroke="#d3323e" stroke-width="1.3" stroke-linejoin="round"/><path d="M427.1,521.5 427.4,496.6 428.2,501.2 428.9,485.8 429.7,472.0 430.6,464.3 431.5,461.2 432.5,460.5 433.4,464.3 434.3,475.1 435.2,490.5 436.2,502.8 437.4,513.5 438.9,518.9 441.2,520.9 442.6,521.0 443.9,521.1 445.3,521.2 446.6,521.2 447.8,521.2 449.1,521.2 450.3,521.3 451.5,521.3 452.7,521.3 453.9,521.3 455.2,521.3 456.4,521.3 457.6,521.3 458.8,521.3 460.1,521.3 461.3,521.3 462.5,521.3 463.7,521.4 464.9,521.4 466.2,521.4 467.4,521.4 468.6,521.4 469.8,521.4 471.0,521.4 472.3,521.4 473.5,521.4 474.7,521.4 475.9,521.4 477.2,521.5 478.4,521.5 479.6,521.5 480.8,521.5 482.0,521.5 483.3,521.5 484.5,521.5 485.7,521.5 486.9,521.5 488.2,521.5" fill="none" stroke="#2e30a8" stroke-opacity="0.8" stroke-width="1.3" stroke-linejoin="round"/><rect x="438.6" y="501.5" width="43.4" height="3.5" rx="0.6" fill="#050505"/><rect x="438.6" y="501.0" width="2.2" height="4.5" rx="1" fill="#050505"/><rect x="479.8" y="501.0" width="2.2" height="4.5" rx="1" fill="#050505"/><rect x="457.6" y="501.5" width="5.5" height="1.5" fill="#fff" fill-opacity="0.8"/><rect x="458.1" y="500.9" width="4.5" height="1.0" fill="#777"/><rect x="423.0" y="520.5" width="1.6" height="2" fill="#222"/><rect x="421.8" y="508.5" width="2.8" height="2" fill="#222"/><rect x="421.8" y="496.4" width="2.8" height="2" fill="#222"/><rect x="421.8" y="484.4" width="2.8" height="2" fill="#222"/><rect x="421.8" y="472.3" width="2.8" height="2" fill="#222"/><rect x="421.0" y="460.3" width="3.6" height="2" fill="#222"/><rect x="415.3" y="481.8" width="1.4" height="13" fill="#8a8a8a"/><rect x="425.0" y="525.3" width="4.2" height="2.6" fill="#444"/><rect x="440.2" y="525.3" width="4.2" height="2.6" fill="#444"/><rect x="455.5" y="525.3" width="4.2" height="2.6" fill="#444"/><rect x="470.8" y="525.3" width="4.2" height="2.6" fill="#444"/><rect x="486.1" y="525.3" width="4.2" height="2.6" fill="#444"/><rect x="450.6" y="528.7" width="14" height="2" fill="#777"/></g>
<g><rect x="101.4" y="548.8" width="65.1" height="64.3" rx="1.2" fill="#fff" stroke="#686868" stroke-width="1.7"/><path d="M101.1,613.1 102.6,611.2 104.2,605.1 105.7,594.3 107.2,580.5 108.8,566.6 110.3,554.3 111.8,551.2 113.1,555.8 114.5,568.2 115.7,582.0 116.9,594.3 118.2,605.1 119.4,611.2 121.1,612.8 122.3,612.8 123.5,612.8 124.7,612.8 126.0,612.8 127.2,612.8 128.4,612.8 129.6,612.8 130.8,612.8 132.0,612.8 133.3,612.9 134.5,612.9 135.7,612.9 136.9,612.9 138.1,612.9 139.4,612.9 140.6,612.9 141.8,612.9 143.0,612.9 144.2,612.9 145.4,612.9 146.7,612.9 147.9,613.0 149.1,613.0 150.3,613.0 151.5,613.0 152.8,613.0 154.0,613.0 155.2,613.0 156.4,613.0 157.6,613.0 158.8,613.0 160.1,613.0 161.3,613.0 162.5,613.1 163.7,613.1 164.9,613.1 166.2,613.1 166.5,613.1 101.4,613.1Z" fill="#ebadb3" stroke="none"/><path d="M101.1,613.1 102.6,611.2 104.2,605.1 105.7,594.3 107.2,580.5 108.8,566.6 110.3,554.3 111.8,551.2 113.1,555.8 114.5,568.2 115.7,582.0 116.9,594.3 118.2,605.1 119.4,611.2 121.1,612.8 122.3,612.8 123.5,612.8 124.7,612.8 126.0,612.8 127.2,612.8 128.4,612.8 129.6,612.8 130.8,612.8 132.0,612.8 133.3,612.9 134.5,612.9 135.7,612.9 136.9,612.9 138.1,612.9 139.4,612.9 140.6,612.9 141.8,612.9 143.0,612.9 144.2,612.9 145.4,612.9 146.7,612.9 147.9,613.0 149.1,613.0 150.3,613.0 151.5,613.0 152.8,613.0 154.0,613.0 155.2,613.0 156.4,613.0 157.6,613.0 158.8,613.0 160.1,613.0 161.3,613.0 162.5,613.1 163.7,613.1 164.9,613.1 166.2,613.1" fill="none" stroke="#d3323e" stroke-width="2.6" stroke-linejoin="round"/><path d="M101.4,613.1 102.9,611.2 104.5,605.1 106.0,594.3 107.5,580.5 109.1,566.6 110.6,554.3 112.2,551.2 113.4,555.8 114.8,568.2 116.0,582.0 117.2,594.3 118.5,605.1 119.7,611.2 121.4,612.8 122.6,612.8 123.8,612.8 125.0,612.8 126.3,612.8 127.5,612.8 128.7,612.8 129.9,612.8 131.1,612.8 132.3,612.8 133.6,612.9 134.8,612.9 136.0,612.9 137.2,612.9 138.4,612.9 139.7,612.9 140.9,612.9 142.1,612.9 143.3,612.9 144.5,612.9 145.8,612.9 147.0,612.9 148.2,613.0 149.4,613.0 150.6,613.0 151.8,613.0 153.1,613.0 154.3,613.0 155.5,613.0 156.7,613.0 157.9,613.0 159.2,613.0 160.4,613.0 161.6,613.0 162.8,613.1 164.0,613.1 165.2,613.1 166.5,613.1" fill="none" stroke="#2e30a8" stroke-opacity="0.8" stroke-width="2.6" stroke-linejoin="round"/><rect x="119.4" y="594.4" width="40.5" height="3.5" rx="0.6" fill="#050505"/><rect x="119.4" y="593.9" width="2.2" height="4.5" rx="1" fill="#050505"/><rect x="157.6" y="593.9" width="2.2" height="4.5" rx="1" fill="#050505"/><rect x="136.9" y="594.4" width="5.5" height="1.5" fill="#fff" fill-opacity="0.8"/><rect x="137.4" y="593.8" width="4.5" height="1.0" fill="#777"/><rect x="97.3" y="612.1" width="1.6" height="2" fill="#222"/><rect x="96.1" y="600.0" width="2.8" height="2" fill="#222"/><rect x="96.1" y="587.9" width="2.8" height="2" fill="#222"/><rect x="96.1" y="575.8" width="2.8" height="2" fill="#222"/><rect x="96.1" y="563.7" width="2.8" height="2" fill="#222"/><rect x="95.3" y="551.7" width="3.6" height="2" fill="#222"/><rect x="89.6" y="573.3" width="1.4" height="13" fill="#8a8a8a"/><rect x="99.3" y="616.9" width="4.2" height="2.6" fill="#444"/><rect x="115.6" y="616.9" width="4.2" height="2.6" fill="#444"/><rect x="131.8" y="616.9" width="4.2" height="2.6" fill="#444"/><rect x="148.1" y="616.9" width="4.2" height="2.6" fill="#444"/><rect x="164.4" y="616.9" width="4.2" height="2.6" fill="#444"/><rect x="126.9" y="620.3" width="14" height="2" fill="#777"/></g>
<g><rect x="181.7" y="546.7" width="65.4" height="62.8" rx="1.2" fill="#fff" stroke="#686868" stroke-width="1.7"/><path d="M181.7,609.5 182.2,602.5 182.9,605.6 184.0,599.5 185.2,584.1 186.5,568.7 187.7,556.4 188.9,550.2 190.2,551.8 191.4,557.9 192.6,568.7 193.8,581.0 195.1,591.8 196.3,601.0 197.8,606.4 199.8,608.7 201.1,608.9 202.4,609.2 203.7,609.5 204.9,609.5 206.1,609.5 207.3,609.5 208.5,609.5 209.7,609.5 210.9,609.5 212.1,609.5 213.3,609.5 214.5,609.5 215.7,609.5 216.9,609.5 218.2,609.5 219.4,609.5 220.6,609.5 221.8,609.5 223.0,609.5 224.2,609.5 225.4,609.5 226.6,609.5 227.8,609.5 229.0,609.5 230.2,609.5 231.4,609.5 232.6,609.5 233.8,609.5 235.0,609.5 236.2,609.5 237.4,609.5 238.6,609.5 239.8,609.5 241.1,609.5 242.3,609.5 243.5,609.5 244.7,609.5 245.9,609.5 247.1,609.5 247.1,609.5 181.7,609.5Z" fill="#ebadb3" stroke="none"/><path d="M181.7,609.5 182.2,602.5 182.9,605.6 184.0,599.5 185.2,584.1 186.5,568.7 187.7,556.4 188.9,550.2 190.2,551.8 191.4,557.9 192.6,568.7 193.8,581.0 195.1,591.8 196.3,601.0 197.8,606.4 199.8,608.7 201.1,608.9 202.4,609.2 203.7,609.5 204.9,609.5 206.1,609.5 207.3,609.5 208.5,609.5 209.7,609.5 210.9,609.5 212.1,609.5 213.3,609.5 214.5,609.5 215.7,609.5 216.9,609.5 218.2,609.5 219.4,609.5 220.6,609.5 221.8,609.5 223.0,609.5 224.2,609.5 225.4,609.5 226.6,609.5 227.8,609.5 229.0,609.5 230.2,609.5 231.4,609.5 232.6,609.5 233.8,609.5 235.0,609.5 236.2,609.5 237.4,609.5 238.6,609.5 239.8,609.5 241.1,609.5 242.3,609.5 243.5,609.5 244.7,609.5 245.9,609.5 247.1,609.5" fill="none" stroke="#d3323e" stroke-width="1.4" stroke-linejoin="round"/><path d="M181.7,609.5 183.7,608.7 185.2,604.1 186.8,593.3 188.3,579.5 189.8,568.7 191.4,557.9 192.6,551.8 193.5,549.5 194.5,553.3 195.7,564.1 196.9,579.5 198.2,593.3 199.4,602.5 200.6,607.2 202.9,608.7 204.2,608.8 205.5,608.9 206.8,609.0 208.3,609.2 209.8,609.5 211.0,609.5 212.2,609.5 213.4,609.5 214.7,609.5 215.9,609.5 217.1,609.5 218.3,609.5 219.5,609.5 220.7,609.5 221.9,609.5 223.1,609.5 224.3,609.5 225.5,609.5 226.7,609.5 227.9,609.5 229.1,609.5 230.3,609.5 231.5,609.5 232.7,609.5 233.9,609.5 235.1,609.5 236.3,609.5 237.5,609.5 238.7,609.5 239.9,609.5 241.1,609.5 242.3,609.5 243.5,609.5 244.7,609.5 245.9,609.5 247.1,609.5" fill="none" stroke="#2e30a8" stroke-opacity="0.8" stroke-width="1.4" stroke-linejoin="round"/><rect x="199.8" y="591.6" width="40.8" height="3.5" rx="0.6" fill="#050505"/><rect x="199.8" y="591.1" width="2.2" height="4.5" rx="1" fill="#050505"/><rect x="238.4" y="591.1" width="2.2" height="4.5" rx="1" fill="#050505"/><rect x="217.5" y="591.6" width="5.5" height="1.5" fill="#fff" fill-opacity="0.8"/><rect x="218.0" y="591.0" width="4.5" height="1.0" fill="#777"/><rect x="177.6" y="608.5" width="1.6" height="2" fill="#222"/><rect x="176.4" y="596.7" width="2.8" height="2" fill="#222"/><rect x="176.4" y="584.9" width="2.8" height="2" fill="#222"/><rect x="176.4" y="573.1" width="2.8" height="2" fill="#222"/><rect x="176.4" y="561.3" width="2.8" height="2" fill="#222"/><rect x="175.6" y="549.5" width="3.6" height="2" fill="#222"/><rect x="169.9" y="570.4" width="1.4" height="13" fill="#8a8a8a"/><rect x="179.6" y="613.3" width="4.2" height="2.6" fill="#444"/><rect x="195.9" y="613.3" width="4.2" height="2.6" fill="#444"/><rect x="212.3" y="613.3" width="4.2" height="2.6" fill="#444"/><rect x="228.6" y="613.3" width="4.2" height="2.6" fill="#444"/><rect x="245.0" y="613.3" width="4.2" height="2.6" fill="#444"/><rect x="207.4" y="616.7" width="14" height="2" fill="#777"/></g>
<g><rect x="264.1" y="546.7" width="65.7" height="62.8" rx="1.2" fill="#fff" stroke="#686868" stroke-width="1.7"/><path d="M264.1,609.5 264.8,604.1 265.9,594.8 267.5,581.0 269.0,564.1 270.5,550.2 271.6,553.3 272.8,559.5 274.1,568.7 275.3,579.5 276.5,590.2 277.8,599.5 279.3,605.6 281.3,608.4 283.6,609.5 284.8,609.5 286.0,609.5 287.3,609.5 288.5,609.5 289.7,609.5 290.9,609.5 292.1,609.5 293.3,609.5 294.5,609.5 295.8,609.5 297.0,609.5 298.2,609.5 299.4,609.5 300.6,609.5 301.8,609.5 303.0,609.5 304.3,609.5 305.5,609.5 306.7,609.5 307.9,609.5 309.1,609.5 310.3,609.5 311.6,609.5 312.8,609.5 314.0,609.5 315.2,609.5 316.4,609.5 317.6,609.5 318.8,609.5 320.1,609.5 321.3,609.5 322.5,609.5 323.7,609.5 324.9,609.5 326.1,609.5 327.3,609.5 328.6,609.5 329.8,609.5 329.8,609.5 264.1,609.5Z" fill="#ebadb3" stroke="none"/><path d="M264.1,609.5 264.8,604.1 265.9,594.8 267.5,581.0 269.0,564.1 270.5,550.2 271.6,553.3 272.8,559.5 274.1,568.7 275.3,579.5 276.5,590.2 277.8,599.5 279.3,605.6 281.3,608.4 283.6,609.5 284.8,609.5 286.0,609.5 287.3,609.5 288.5,609.5 289.7,609.5 290.9,609.5 292.1,609.5 293.3,609.5 294.5,609.5 295.8,609.5 297.0,609.5 298.2,609.5 299.4,609.5 300.6,609.5 301.8,609.5 303.0,609.5 304.3,609.5 305.5,609.5 306.7,609.5 307.9,609.5 309.1,609.5 310.3,609.5 311.6,609.5 312.8,609.5 314.0,609.5 315.2,609.5 316.4,609.5 317.6,609.5 318.8,609.5 320.1,609.5 321.3,609.5 322.5,609.5 323.7,609.5 324.9,609.5 326.1,609.5 327.3,609.5 328.6,609.5 329.8,609.5" fill="none" stroke="#d3323e" stroke-width="1.4" stroke-linejoin="round"/><path d="M264.1,609.5 265.9,608.7 268.2,605.6 270.1,597.9 271.6,585.6 273.2,571.8 274.7,559.5 275.9,553.3 277.2,550.2 278.1,553.3 279.0,562.5 279.9,576.4 280.8,590.2 282.1,601.0 283.3,607.2 285.2,608.7 286.7,608.8 288.2,608.9 289.8,609.0 291.3,609.2 292.8,609.3 294.4,609.5 295.6,609.5 296.8,609.5 298.0,609.5 299.3,609.5 300.5,609.5 301.7,609.5 302.9,609.5 304.1,609.5 305.4,609.5 306.6,609.5 307.8,609.5 309.0,609.5 310.2,609.5 311.5,609.5 312.7,609.5 313.9,609.5 315.1,609.5 316.3,609.5 317.6,609.5 318.8,609.5 320.0,609.5 321.2,609.5 322.4,609.5 323.7,609.5 324.9,609.5 326.1,609.5 327.3,609.5 328.5,609.5 329.8,609.5" fill="none" stroke="#2e30a8" stroke-opacity="0.8" stroke-width="1.4" stroke-linejoin="round"/><rect x="281.8" y="591.6" width="41.5" height="3.5" rx="0.6" fill="#050505"/><rect x="281.8" y="591.1" width="2.2" height="4.5" rx="1" fill="#050505"/><rect x="321.1" y="591.1" width="2.2" height="4.5" rx="1" fill="#050505"/><rect x="299.8" y="591.6" width="5.5" height="1.5" fill="#fff" fill-opacity="0.8"/><rect x="300.3" y="591.0" width="4.5" height="1.0" fill="#777"/><rect x="260.0" y="608.5" width="1.6" height="2" fill="#222"/><rect x="258.8" y="596.7" width="2.8" height="2" fill="#222"/><rect x="258.8" y="584.9" width="2.8" height="2" fill="#222"/><rect x="258.8" y="573.1" width="2.8" height="2" fill="#222"/><rect x="258.8" y="561.3" width="2.8" height="2" fill="#222"/><rect x="258.0" y="549.5" width="3.6" height="2" fill="#222"/><rect x="252.3" y="570.4" width="1.4" height="13" fill="#8a8a8a"/><rect x="262.0" y="613.3" width="4.2" height="2.6" fill="#444"/><rect x="278.4" y="613.3" width="4.2" height="2.6" fill="#444"/><rect x="294.8" y="613.3" width="4.2" height="2.6" fill="#444"/><rect x="311.2" y="613.3" width="4.2" height="2.6" fill="#444"/><rect x="327.7" y="613.3" width="4.2" height="2.6" fill="#444"/><rect x="289.9" y="616.7" width="14" height="2" fill="#777"/></g>
<g><rect x="349.4" y="546.9" width="60.0" height="66.2" rx="1.2" fill="#fff" stroke="#8c8c8c" stroke-width="1.0"/><path d="M349.4,613.1 349.7,589.7 350.9,586.6 352.5,588.2 354.0,591.2 355.5,592.8 356.6,588.2 357.8,572.8 358.9,557.4 359.8,552.8 360.9,554.3 361.7,558.9 362.5,568.2 363.7,582.0 364.9,591.2 366.3,597.4 367.8,602.0 369.4,605.1 370.9,608.2 372.5,611.2 374.0,612.8 376.3,613.1 377.5,613.1 378.8,613.1 380.0,613.1 381.2,613.1 382.4,613.1 383.7,613.1 384.9,613.1 386.1,613.1 387.3,613.1 388.6,613.1 389.8,613.1 391.0,613.1 392.2,613.1 393.5,613.1 394.7,613.1 395.9,613.1 397.1,613.1 398.4,613.1 399.6,613.1 400.8,613.1 402.0,613.1 403.3,613.1 404.5,613.1 405.7,613.1 406.9,613.1 408.2,613.1 409.4,613.1 409.4,613.1 349.4,613.1Z" fill="#ebadb3" stroke="none"/><path d="M349.4,613.1 349.7,589.7 350.9,586.6 352.5,588.2 354.0,591.2 355.5,592.8 356.6,588.2 357.8,572.8 358.9,557.4 359.8,552.8 360.9,554.3 361.7,558.9 362.5,568.2 363.7,582.0 364.9,591.2 366.3,597.4 367.8,602.0 369.4,605.1 370.9,608.2 372.5,611.2 374.0,612.8 376.3,613.1 377.5,613.1 378.8,613.1 380.0,613.1 381.2,613.1 382.4,613.1 383.7,613.1 384.9,613.1 386.1,613.1 387.3,613.1 388.6,613.1 389.8,613.1 391.0,613.1 392.2,613.1 393.5,613.1 394.7,613.1 395.9,613.1 397.1,613.1 398.4,613.1 399.6,613.1 400.8,613.1 402.0,613.1 403.3,613.1 404.5,613.1 405.7,613.1 406.9,613.1 408.2,613.1 409.4,613.1" fill="none" stroke="#a04050" stroke-width="0.9"/><path d="M349.4,613.1 349.7,572.8 350.5,568.2 351.4,569.7 352.5,575.8 353.5,585.1 354.8,591.2 356.0,594.3 357.1,591.2 358.2,577.4 359.4,560.5 360.6,551.2 361.7,551.2 362.8,555.8 364.0,565.1 365.2,572.8 366.5,583.5 367.8,588.2 369.4,594.3 370.9,602.0 372.5,608.2 374.0,612.0 376.3,613.1 377.5,613.1 378.8,613.1 380.0,613.1 381.2,613.1 382.4,613.1 383.7,613.1 384.9,613.1 386.1,613.1 387.3,613.1 388.6,613.1 389.8,613.1 391.0,613.1 392.2,613.1 393.5,613.1 394.7,613.1 395.9,613.1 397.1,613.1 398.4,613.1 399.6,613.1 400.8,613.1 402.0,613.1 403.3,613.1 404.5,613.1 405.7,613.1 406.9,613.1 408.2,613.1 409.4,613.1" fill="none" stroke="#6a6a90" stroke-width="0.9"/><rect x="368.6" y="589.9" width="37.7" height="2.0" rx="0.6" fill="#050505"/><rect x="368.6" y="589.1" width="1.2" height="3.6" fill="#050505"/><rect x="405.1" y="589.1" width="1.2" height="3.6" fill="#050505"/><rect x="385.0" y="586.7" width="5" height="1.2" fill="#777"/><rect x="345.3" y="612.1" width="1.6" height="2" fill="#222"/><rect x="344.1" y="599.6" width="2.8" height="2" fill="#222"/><rect x="344.1" y="587.2" width="2.8" height="2" fill="#222"/><rect x="344.1" y="574.8" width="2.8" height="2" fill="#222"/><rect x="344.1" y="562.4" width="2.8" height="2" fill="#222"/><rect x="343.3" y="549.9" width="3.6" height="2" fill="#222"/><rect x="337.6" y="572.3" width="1.4" height="13" fill="#8a8a8a"/><rect x="347.3" y="616.9" width="4.2" height="2.6" fill="#444"/><rect x="362.3" y="616.9" width="4.2" height="2.6" fill="#444"/><rect x="377.3" y="616.9" width="4.2" height="2.6" fill="#444"/><rect x="392.3" y="616.9" width="4.2" height="2.6" fill="#444"/><rect x="407.3" y="616.9" width="4.2" height="2.6" fill="#444"/><rect x="372.4" y="620.3" width="14" height="2" fill="#777"/></g>
<g><rect x="428.4" y="546.7" width="60.5" height="64.3" rx="1.2" fill="#fff" stroke="#686868" stroke-width="1.7"/><path d="M428.4,611.0 428.7,599.5 429.2,587.2 429.8,594.8 430.7,579.5 431.5,565.6 432.2,556.4 433.0,550.2 434.1,551.8 435.0,557.9 435.9,559.5 436.8,557.9 437.6,562.5 438.4,571.8 439.3,582.5 440.2,590.2 441.5,593.3 442.7,599.5 443.9,605.6 445.3,608.7 447.6,610.5 449.2,610.8 450.7,611.0 451.9,611.0 453.2,611.0 454.4,611.0 455.6,611.0 456.8,611.0 458.1,611.0 459.3,611.0 460.5,611.0 461.8,611.0 463.0,611.0 464.2,611.0 465.5,611.0 466.7,611.0 467.9,611.0 469.2,611.0 470.4,611.0 471.6,611.0 472.8,611.0 474.1,611.0 475.3,611.0 476.5,611.0 477.8,611.0 479.0,611.0 480.2,611.0 481.5,611.0 482.7,611.0 483.9,611.0 485.2,611.0 486.4,611.0 487.6,611.0 488.8,611.0 488.8,611.0 428.4,611.0Z" fill="#ebadb3" stroke="none"/><path d="M428.4,611.0 428.7,599.5 429.2,587.2 429.8,594.8 430.7,579.5 431.5,565.6 432.2,556.4 433.0,550.2 434.1,551.8 435.0,557.9 435.9,559.5 436.8,557.9 437.6,562.5 438.4,571.8 439.3,582.5 440.2,590.2 441.5,593.3 442.7,599.5 443.9,605.6 445.3,608.7 447.6,610.5 449.2,610.8 450.7,611.0 451.9,611.0 453.2,611.0 454.4,611.0 455.6,611.0 456.8,611.0 458.1,611.0 459.3,611.0 460.5,611.0 461.8,611.0 463.0,611.0 464.2,611.0 465.5,611.0 466.7,611.0 467.9,611.0 469.2,611.0 470.4,611.0 471.6,611.0 472.8,611.0 474.1,611.0 475.3,611.0 476.5,611.0 477.8,611.0 479.0,611.0 480.2,611.0 481.5,611.0 482.7,611.0 483.9,611.0 485.2,611.0 486.4,611.0 487.6,611.0 488.8,611.0" fill="none" stroke="#d3323e" stroke-width="1.5" stroke-linejoin="round"/><path d="M428.4,611.0 429.9,609.5 431.5,605.6 433.0,597.9 434.5,587.2 436.1,573.3 437.2,561.0 438.1,551.8 438.7,550.2 439.6,554.8 440.7,564.1 441.8,576.4 443.0,590.2 444.2,601.0 445.5,607.2 446.8,609.9 449.2,610.7 450.4,610.7 451.6,610.7 452.8,610.7 454.0,610.7 455.2,610.7 456.4,610.7 457.6,610.8 458.8,610.8 460.0,610.8 461.2,610.8 462.4,610.8 463.6,610.8 464.8,610.8 466.0,610.8 467.2,610.8 468.4,610.8 469.6,610.9 470.8,610.9 472.0,610.9 473.2,610.9 474.4,610.9 475.6,610.9 476.8,610.9 478.0,610.9 479.2,610.9 480.4,610.9 481.6,610.9 482.8,611.0 484.0,611.0 485.2,611.0 486.4,611.0 487.6,611.0 488.8,611.0" fill="none" stroke="#2e30a8" stroke-opacity="0.8" stroke-width="1.5" stroke-linejoin="round"/><rect x="444.5" y="592.0" width="38.5" height="3.5" rx="0.6" fill="#050505"/><rect x="444.5" y="591.5" width="2.2" height="4.5" rx="1" fill="#050505"/><rect x="480.8" y="591.5" width="2.2" height="4.5" rx="1" fill="#050505"/><rect x="461.0" y="592.0" width="5.5" height="1.5" fill="#fff" fill-opacity="0.8"/><rect x="461.5" y="591.4" width="4.5" height="1.0" fill="#777"/><rect x="424.3" y="610.0" width="1.6" height="2" fill="#222"/><rect x="423.1" y="597.9" width="2.8" height="2" fill="#222"/><rect x="423.1" y="585.8" width="2.8" height="2" fill="#222"/><rect x="423.1" y="573.8" width="2.8" height="2" fill="#222"/><rect x="423.1" y="561.7" width="2.8" height="2" fill="#222"/><rect x="422.3" y="549.6" width="3.6" height="2" fill="#222"/><rect x="416.6" y="571.2" width="1.4" height="13" fill="#8a8a8a"/><rect x="426.3" y="614.8" width="4.2" height="2.6" fill="#444"/><rect x="441.4" y="614.8" width="4.2" height="2.6" fill="#444"/><rect x="456.5" y="614.8" width="4.2" height="2.6" fill="#444"/><rect x="471.6" y="614.8" width="4.2" height="2.6" fill="#444"/><rect x="486.7" y="614.8" width="4.2" height="2.6" fill="#444"/><rect x="451.6" y="618.2" width="14" height="2" fill="#777"/></g>
<text transform="translate(135.80,80.74) rotate(-90)" font-family="Liberation Sans" font-weight="bold" font-size="14.3" textLength="35.18" lengthAdjust="spacingAndGlyphs" fill="#000">RPMI</text>
<text transform="translate(215.70,80.83) rotate(-90)" font-family="Liberation Sans" font-weight="bold" font-size="14.3" textLength="41.92" lengthAdjust="spacingAndGlyphs" fill="#000">DMSO</text>
<text transform="translate(288.00,80.14) rotate(-90)" font-family="Liberation Sans" font-weight="bold" font-size="14.3" textLength="79.15" lengthAdjust="spacingAndGlyphs" fill="#000">MGCD-0103</text>
<text transform="translate(375.50,80.31) rotate(-90)" font-family="Liberation Sans" font-weight="bold" font-size="14.3" textLength="67.40" lengthAdjust="spacingAndGlyphs" fill="#000">SNDX-275</text>
<text transform="translate(460.90,79.19) rotate(-90)" font-family="Liberation Sans" font-weight="bold" font-size="14.3" textLength="68.36" lengthAdjust="spacingAndGlyphs" fill="#000">Vorinostat</text>
<text x="-0.83" y="139.4" font-family="Liberation Sans" font-size="19.6" textLength="74.14" lengthAdjust="spacingAndGlyphs" fill="#111">HD-LM2</text>
<text x="27.52" y="219.9" font-family="Liberation Sans" font-size="19.6" textLength="45.68" lengthAdjust="spacingAndGlyphs" fill="#111">L428</text>
<text x="11.37" y="311.7" font-family="Liberation Sans" font-size="19.6" textLength="61.93" lengthAdjust="spacingAndGlyphs" fill="#111">KM-H2</text>
<text x="16.60" y="410.7" font-family="Liberation Sans" font-size="19.6" textLength="57.43" lengthAdjust="spacingAndGlyphs" fill="#111">Jeko-1</text>
<text x="29.55" y="495.5" font-family="Liberation Sans" font-size="19.6" textLength="43.59" lengthAdjust="spacingAndGlyphs" fill="#111">Mino</text>
<text x="17.59" y="581.0" font-family="Liberation Sans" font-size="19.6" textLength="55.59" lengthAdjust="spacingAndGlyphs" fill="#111">SP-53</text>
<text x="-0.6" y="18.1" font-family="Liberation Sans" font-weight="bold" font-size="23.4" fill="#000">B</text>
<text x="119.2" y="678.2" font-family="Liberation Sans" font-size="18.6" textLength="53.3" lengthAdjust="spacingAndGlyphs" fill="#111">OX40L</text>
<path d="M188,675.6 L463,673.4 L463,676.4 L188,678.6 Z" fill="#efefef"/>
<path d="M187.8,671.9 L463,669.8 L463,672.2 L187.8,674.4 Z" fill="#080808"/>
<path d="M461.9,664.1 L475.8,670.9 L461.9,677.9 Z" fill="#080808"/>
</svg>
</body></html>
